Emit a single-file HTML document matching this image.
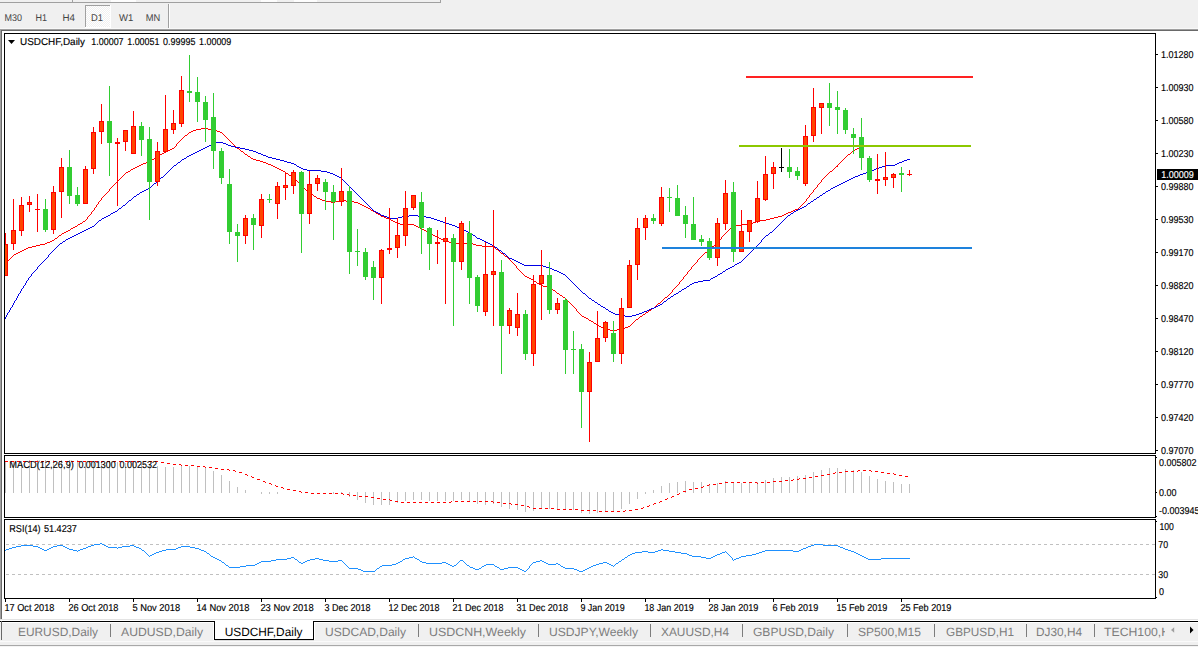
<!DOCTYPE html>
<html><head><meta charset="utf-8"><title>USDCHF,Daily</title>
<style>
html,body{margin:0;padding:0;background:#f0f0f0;overflow:hidden}
body{width:1198px;height:647px}
svg{display:block;position:absolute;left:0;top:0}
text{font-family:"Liberation Sans", sans-serif;text-rendering:geometricPrecision}
.ax{font-size:10px;fill:#000;stroke:#000;stroke-width:0.15px}
.tb{font-size:9.8px;fill:#444}
.tab{font-size:12px;fill:#7d7d7d}
.tabA{font-size:12px;fill:#000}
</style></head><body>
<svg width="1198" height="647" viewBox="0 0 1198 647">
<g shape-rendering="crispEdges">
<rect x="0" y="0" width="1198" height="647" fill="#f0f0f0"/>
<rect x="0" y="2" width="441" height="1" fill="#a0a0a0"/>
<rect x="72" y="0" width="1" height="2" fill="#a0a0a0"/>
<rect x="440" y="0" width="1" height="2" fill="#a0a0a0"/>
<rect x="111" y="0" width="25" height="2" fill="#fdfdfd"/>
<rect x="261" y="0" width="16" height="2" fill="#fdfdfd"/>
<rect x="294" y="0" width="23" height="2" fill="#fdfdfd"/>
<pattern id="ck" width="2" height="2" patternUnits="userSpaceOnUse"><rect width="2" height="2" fill="#f0f0f0"/><rect width="1" height="1" fill="#fff"/><rect x="1" y="1" width="1" height="1" fill="#fff"/></pattern>
<rect x="85" y="5" width="26" height="23" fill="url(#ck)"/>
<rect x="85" y="5" width="26" height="1" fill="#a0a0a0"/>
<rect x="85" y="5" width="1" height="23" fill="#a0a0a0"/>
<rect x="110" y="5" width="1" height="23" fill="#ffffff"/>
<rect x="85" y="27" width="26" height="1" fill="#ffffff"/>
<rect x="168" y="4" width="1" height="25" fill="#a0a0a0"/>
<rect x="169" y="4" width="1" height="25" fill="#ffffff"/>
<rect x="0" y="28" width="1198" height="1" fill="#f8f8f8"/>
<rect x="0" y="29" width="1198" height="1" fill="#a0a0a0"/>
<rect x="0" y="30" width="1198" height="1" fill="#696969"/>
<rect x="0" y="31" width="1198" height="589" fill="#ffffff"/>
<rect x="0" y="29" width="1" height="591" fill="#a0a0a0"/>
<rect x="1" y="30" width="1" height="590" fill="#696969"/>
<rect x="4" y="33" width="1152" height="1" fill="#000"/>
<rect x="4" y="453" width="1152" height="1" fill="#000"/>
<rect x="4" y="33" width="1" height="421" fill="#000"/>
<rect x="1155" y="33" width="1" height="421" fill="#000"/>
<rect x="4" y="455" width="1152" height="1" fill="#000"/>
<rect x="4" y="517" width="1152" height="1" fill="#000"/>
<rect x="4" y="455" width="1" height="63" fill="#000"/>
<rect x="1155" y="455" width="1" height="63" fill="#000"/>
<rect x="4" y="519" width="1152" height="1" fill="#000"/>
<rect x="4" y="598" width="1152" height="1" fill="#000"/>
<rect x="4" y="519" width="1" height="80" fill="#000"/>
<rect x="1155" y="519" width="1" height="80" fill="#000"/>
</g>
<defs><clipPath id="cm"><rect x="5" y="34" width="1150" height="419"/></clipPath><clipPath id="c2"><rect x="5" y="456" width="1150" height="61"/></clipPath><clipPath id="c3"><rect x="5" y="520" width="1150" height="78"/></clipPath></defs>
<g shape-rendering="crispEdges" clip-path="url(#cm)" fill="#ff0000">
<rect x="5" y="261" width="1" height="1"/>
<rect x="6" y="260" width="3" height="1"/>
<rect x="9" y="259" width="1" height="1"/>
<rect x="10" y="258" width="1" height="1"/>
<rect x="11" y="257" width="1" height="1"/>
<rect x="12" y="256" width="1" height="1"/>
<rect x="13" y="255" width="1" height="1"/>
<rect x="14" y="254" width="2" height="1"/>
<rect x="16" y="253" width="2" height="1"/>
<rect x="18" y="252" width="2" height="1"/>
<rect x="20" y="251" width="2" height="1"/>
<rect x="22" y="250" width="2" height="1"/>
<rect x="24" y="249" width="2" height="1"/>
<rect x="26" y="248" width="2" height="1"/>
<rect x="28" y="247" width="4" height="1"/>
<rect x="32" y="246" width="4" height="1"/>
<rect x="36" y="245" width="4" height="1"/>
<rect x="40" y="244" width="5" height="1"/>
<rect x="45" y="243" width="2" height="1"/>
<rect x="47" y="242" width="3" height="1"/>
<rect x="50" y="241" width="2" height="1"/>
<rect x="52" y="240" width="2" height="1"/>
<rect x="54" y="239" width="1" height="1"/>
<rect x="55" y="238" width="2" height="1"/>
<rect x="57" y="237" width="1" height="1"/>
<rect x="58" y="236" width="1" height="1"/>
<rect x="59" y="235" width="2" height="1"/>
<rect x="61" y="234" width="1" height="1"/>
<rect x="62" y="233" width="2" height="1"/>
<rect x="64" y="232" width="2" height="1"/>
<rect x="66" y="231" width="2" height="1"/>
<rect x="68" y="230" width="2" height="1"/>
<rect x="70" y="229" width="1" height="1"/>
<rect x="71" y="228" width="2" height="1"/>
<rect x="73" y="227" width="2" height="1"/>
<rect x="75" y="226" width="2" height="1"/>
<rect x="77" y="225" width="1" height="1"/>
<rect x="78" y="224" width="2" height="1"/>
<rect x="80" y="223" width="2" height="1"/>
<rect x="82" y="222" width="1" height="1"/>
<rect x="83" y="221" width="2" height="1"/>
<rect x="85" y="220" width="1" height="1"/>
<rect x="86" y="219" width="1" height="1"/>
<rect x="87" y="217" width="1" height="2"/>
<rect x="88" y="216" width="1" height="1"/>
<rect x="89" y="215" width="1" height="1"/>
<rect x="90" y="214" width="1" height="1"/>
<rect x="91" y="212" width="1" height="2"/>
<rect x="92" y="211" width="1" height="1"/>
<rect x="93" y="210" width="1" height="1"/>
<rect x="94" y="208" width="1" height="2"/>
<rect x="95" y="207" width="1" height="1"/>
<rect x="96" y="205" width="1" height="2"/>
<rect x="97" y="204" width="1" height="1"/>
<rect x="98" y="202" width="1" height="2"/>
<rect x="99" y="201" width="1" height="1"/>
<rect x="100" y="200" width="1" height="1"/>
<rect x="101" y="198" width="1" height="2"/>
<rect x="102" y="197" width="1" height="1"/>
<rect x="103" y="196" width="1" height="1"/>
<rect x="104" y="195" width="1" height="1"/>
<rect x="105" y="194" width="1" height="1"/>
<rect x="106" y="193" width="1" height="1"/>
<rect x="107" y="192" width="1" height="1"/>
<rect x="108" y="191" width="1" height="1"/>
<rect x="109" y="189" width="1" height="2"/>
<rect x="110" y="188" width="1" height="1"/>
<rect x="111" y="187" width="1" height="1"/>
<rect x="112" y="186" width="1" height="1"/>
<rect x="113" y="185" width="1" height="1"/>
<rect x="114" y="184" width="1" height="1"/>
<rect x="115" y="183" width="1" height="1"/>
<rect x="116" y="182" width="1" height="1"/>
<rect x="117" y="181" width="1" height="1"/>
<rect x="118" y="180" width="1" height="1"/>
<rect x="119" y="179" width="1" height="1"/>
<rect x="120" y="178" width="1" height="1"/>
<rect x="121" y="177" width="1" height="1"/>
<rect x="122" y="176" width="1" height="1"/>
<rect x="123" y="175" width="1" height="1"/>
<rect x="124" y="174" width="1" height="1"/>
<rect x="125" y="173" width="1" height="1"/>
<rect x="126" y="172" width="2" height="1"/>
<rect x="128" y="171" width="2" height="1"/>
<rect x="130" y="170" width="1" height="1"/>
<rect x="131" y="169" width="2" height="1"/>
<rect x="133" y="168" width="2" height="1"/>
<rect x="135" y="167" width="2" height="1"/>
<rect x="137" y="166" width="2" height="1"/>
<rect x="139" y="165" width="2" height="1"/>
<rect x="141" y="164" width="2" height="1"/>
<rect x="143" y="163" width="3" height="1"/>
<rect x="146" y="162" width="2" height="1"/>
<rect x="148" y="161" width="2" height="1"/>
<rect x="150" y="160" width="2" height="1"/>
<rect x="152" y="159" width="2" height="1"/>
<rect x="154" y="158" width="1" height="1"/>
<rect x="155" y="157" width="2" height="1"/>
<rect x="157" y="156" width="1" height="1"/>
<rect x="158" y="155" width="2" height="1"/>
<rect x="160" y="154" width="2" height="1"/>
<rect x="162" y="153" width="2" height="1"/>
<rect x="164" y="152" width="2" height="1"/>
<rect x="166" y="151" width="2" height="1"/>
<rect x="168" y="150" width="2" height="1"/>
<rect x="170" y="149" width="2" height="1"/>
<rect x="172" y="148" width="2" height="1"/>
<rect x="174" y="147" width="1" height="1"/>
<rect x="175" y="146" width="1" height="1"/>
<rect x="176" y="144" width="1" height="2"/>
<rect x="177" y="143" width="1" height="1"/>
<rect x="178" y="142" width="1" height="1"/>
<rect x="179" y="141" width="1" height="1"/>
<rect x="180" y="140" width="1" height="1"/>
<rect x="181" y="139" width="1" height="1"/>
<rect x="182" y="138" width="1" height="1"/>
<rect x="183" y="137" width="1" height="1"/>
<rect x="184" y="136" width="1" height="1"/>
<rect x="185" y="135" width="2" height="1"/>
<rect x="187" y="134" width="1" height="1"/>
<rect x="188" y="133" width="1" height="1"/>
<rect x="189" y="132" width="2" height="1"/>
<rect x="191" y="131" width="2" height="1"/>
<rect x="193" y="130" width="3" height="1"/>
<rect x="196" y="129" width="5" height="1"/>
<rect x="201" y="128" width="7" height="1"/>
<rect x="208" y="129" width="5" height="1"/>
<rect x="213" y="130" width="4" height="1"/>
<rect x="217" y="131" width="3" height="1"/>
<rect x="220" y="132" width="2" height="1"/>
<rect x="222" y="133" width="1" height="1"/>
<rect x="223" y="134" width="1" height="1"/>
<rect x="224" y="135" width="1" height="1"/>
<rect x="225" y="136" width="1" height="1"/>
<rect x="226" y="137" width="1" height="1"/>
<rect x="227" y="138" width="1" height="1"/>
<rect x="228" y="139" width="1" height="1"/>
<rect x="229" y="140" width="1" height="1"/>
<rect x="230" y="141" width="1" height="1"/>
<rect x="231" y="142" width="1" height="1"/>
<rect x="232" y="143" width="1" height="1"/>
<rect x="233" y="144" width="1" height="1"/>
<rect x="234" y="145" width="1" height="1"/>
<rect x="235" y="146" width="1" height="1"/>
<rect x="236" y="147" width="1" height="1"/>
<rect x="237" y="148" width="2" height="1"/>
<rect x="239" y="149" width="1" height="1"/>
<rect x="240" y="150" width="1" height="1"/>
<rect x="241" y="151" width="2" height="1"/>
<rect x="243" y="152" width="1" height="1"/>
<rect x="244" y="153" width="1" height="1"/>
<rect x="245" y="154" width="2" height="1"/>
<rect x="247" y="155" width="1" height="1"/>
<rect x="248" y="156" width="2" height="1"/>
<rect x="250" y="157" width="1" height="1"/>
<rect x="251" y="158" width="2" height="1"/>
<rect x="253" y="159" width="3" height="1"/>
<rect x="256" y="160" width="4" height="1"/>
<rect x="260" y="161" width="3" height="1"/>
<rect x="263" y="162" width="3" height="1"/>
<rect x="266" y="163" width="2" height="1"/>
<rect x="268" y="164" width="3" height="1"/>
<rect x="271" y="165" width="2" height="1"/>
<rect x="273" y="166" width="2" height="1"/>
<rect x="275" y="167" width="2" height="1"/>
<rect x="277" y="168" width="2" height="1"/>
<rect x="279" y="169" width="2" height="1"/>
<rect x="281" y="170" width="2" height="1"/>
<rect x="283" y="171" width="2" height="1"/>
<rect x="285" y="172" width="1" height="1"/>
<rect x="286" y="173" width="2" height="1"/>
<rect x="288" y="174" width="1" height="1"/>
<rect x="289" y="175" width="2" height="1"/>
<rect x="291" y="176" width="1" height="1"/>
<rect x="292" y="177" width="2" height="1"/>
<rect x="294" y="178" width="1" height="1"/>
<rect x="295" y="179" width="1" height="1"/>
<rect x="296" y="180" width="1" height="1"/>
<rect x="297" y="181" width="1" height="1"/>
<rect x="298" y="182" width="1" height="1"/>
<rect x="299" y="183" width="1" height="1"/>
<rect x="300" y="184" width="1" height="1"/>
<rect x="301" y="185" width="1" height="1"/>
<rect x="302" y="186" width="1" height="1"/>
<rect x="303" y="187" width="1" height="1"/>
<rect x="304" y="188" width="1" height="1"/>
<rect x="305" y="189" width="1" height="1"/>
<rect x="306" y="190" width="1" height="1"/>
<rect x="307" y="191" width="1" height="1"/>
<rect x="308" y="192" width="1" height="1"/>
<rect x="309" y="193" width="2" height="1"/>
<rect x="311" y="194" width="2" height="1"/>
<rect x="313" y="195" width="1" height="1"/>
<rect x="314" y="196" width="2" height="1"/>
<rect x="316" y="197" width="1" height="1"/>
<rect x="317" y="198" width="3" height="1"/>
<rect x="320" y="199" width="2" height="1"/>
<rect x="322" y="200" width="3" height="1"/>
<rect x="325" y="201" width="6" height="1"/>
<rect x="331" y="202" width="4" height="1"/>
<rect x="335" y="201" width="4" height="1"/>
<rect x="339" y="200" width="7" height="1"/>
<rect x="346" y="201" width="8" height="1"/>
<rect x="354" y="202" width="4" height="1"/>
<rect x="358" y="203" width="2" height="1"/>
<rect x="360" y="204" width="2" height="1"/>
<rect x="362" y="205" width="2" height="1"/>
<rect x="364" y="206" width="2" height="1"/>
<rect x="366" y="207" width="2" height="1"/>
<rect x="368" y="208" width="2" height="1"/>
<rect x="370" y="209" width="1" height="1"/>
<rect x="371" y="210" width="2" height="1"/>
<rect x="373" y="211" width="2" height="1"/>
<rect x="375" y="212" width="1" height="1"/>
<rect x="376" y="213" width="2" height="1"/>
<rect x="378" y="214" width="2" height="1"/>
<rect x="380" y="215" width="1" height="1"/>
<rect x="381" y="216" width="3" height="1"/>
<rect x="384" y="217" width="2" height="1"/>
<rect x="386" y="218" width="3" height="1"/>
<rect x="389" y="219" width="2" height="1"/>
<rect x="391" y="220" width="2" height="1"/>
<rect x="393" y="221" width="2" height="1"/>
<rect x="395" y="222" width="2" height="1"/>
<rect x="397" y="223" width="3" height="1"/>
<rect x="400" y="224" width="5" height="1"/>
<rect x="405" y="225" width="1" height="1"/>
<rect x="406" y="224" width="8" height="1"/>
<rect x="414" y="225" width="2" height="1"/>
<rect x="416" y="226" width="2" height="1"/>
<rect x="418" y="227" width="2" height="1"/>
<rect x="420" y="228" width="2" height="1"/>
<rect x="422" y="229" width="2" height="1"/>
<rect x="424" y="230" width="2" height="1"/>
<rect x="426" y="231" width="2" height="1"/>
<rect x="428" y="232" width="1" height="1"/>
<rect x="429" y="233" width="2" height="1"/>
<rect x="431" y="234" width="2" height="1"/>
<rect x="433" y="235" width="2" height="1"/>
<rect x="435" y="236" width="2" height="1"/>
<rect x="437" y="237" width="2" height="1"/>
<rect x="439" y="238" width="2" height="1"/>
<rect x="441" y="239" width="2" height="1"/>
<rect x="443" y="240" width="2" height="1"/>
<rect x="445" y="241" width="4" height="1"/>
<rect x="449" y="242" width="3" height="1"/>
<rect x="452" y="243" width="21" height="1"/>
<rect x="473" y="244" width="3" height="1"/>
<rect x="476" y="245" width="6" height="1"/>
<rect x="482" y="246" width="12" height="1"/>
<rect x="494" y="247" width="1" height="1"/>
<rect x="495" y="248" width="1" height="1"/>
<rect x="496" y="249" width="2" height="1"/>
<rect x="498" y="250" width="1" height="1"/>
<rect x="499" y="251" width="1" height="1"/>
<rect x="500" y="252" width="1" height="1"/>
<rect x="501" y="253" width="2" height="1"/>
<rect x="503" y="254" width="1" height="1"/>
<rect x="504" y="255" width="1" height="1"/>
<rect x="505" y="256" width="2" height="1"/>
<rect x="507" y="257" width="1" height="1"/>
<rect x="508" y="258" width="1" height="1"/>
<rect x="509" y="259" width="1" height="1"/>
<rect x="510" y="260" width="1" height="1"/>
<rect x="511" y="261" width="1" height="1"/>
<rect x="512" y="262" width="1" height="1"/>
<rect x="513" y="263" width="1" height="1"/>
<rect x="514" y="264" width="1" height="1"/>
<rect x="515" y="265" width="1" height="1"/>
<rect x="516" y="266" width="1" height="2"/>
<rect x="517" y="268" width="1" height="1"/>
<rect x="518" y="269" width="1" height="1"/>
<rect x="519" y="270" width="1" height="1"/>
<rect x="520" y="271" width="1" height="1"/>
<rect x="521" y="272" width="1" height="1"/>
<rect x="522" y="273" width="1" height="1"/>
<rect x="523" y="274" width="1" height="1"/>
<rect x="524" y="275" width="1" height="1"/>
<rect x="525" y="276" width="2" height="1"/>
<rect x="527" y="277" width="2" height="1"/>
<rect x="529" y="278" width="2" height="1"/>
<rect x="531" y="279" width="2" height="1"/>
<rect x="533" y="280" width="1" height="1"/>
<rect x="534" y="281" width="2" height="1"/>
<rect x="536" y="282" width="1" height="1"/>
<rect x="537" y="283" width="2" height="1"/>
<rect x="539" y="284" width="2" height="1"/>
<rect x="541" y="285" width="2" height="1"/>
<rect x="543" y="286" width="4" height="1"/>
<rect x="547" y="287" width="3" height="1"/>
<rect x="550" y="288" width="2" height="1"/>
<rect x="552" y="289" width="1" height="1"/>
<rect x="553" y="290" width="2" height="1"/>
<rect x="555" y="291" width="1" height="1"/>
<rect x="556" y="292" width="1" height="1"/>
<rect x="557" y="293" width="2" height="1"/>
<rect x="559" y="294" width="1" height="1"/>
<rect x="560" y="295" width="2" height="1"/>
<rect x="562" y="296" width="1" height="1"/>
<rect x="563" y="297" width="2" height="1"/>
<rect x="565" y="298" width="1" height="1"/>
<rect x="566" y="299" width="1" height="1"/>
<rect x="567" y="300" width="1" height="1"/>
<rect x="568" y="301" width="1" height="1"/>
<rect x="569" y="302" width="1" height="1"/>
<rect x="570" y="303" width="1" height="1"/>
<rect x="571" y="304" width="1" height="1"/>
<rect x="572" y="305" width="1" height="1"/>
<rect x="573" y="306" width="1" height="1"/>
<rect x="574" y="307" width="1" height="1"/>
<rect x="575" y="308" width="1" height="1"/>
<rect x="576" y="309" width="1" height="2"/>
<rect x="577" y="311" width="1" height="1"/>
<rect x="578" y="312" width="1" height="1"/>
<rect x="579" y="313" width="1" height="1"/>
<rect x="580" y="314" width="1" height="1"/>
<rect x="581" y="315" width="1" height="1"/>
<rect x="582" y="316" width="2" height="1"/>
<rect x="584" y="317" width="2" height="1"/>
<rect x="586" y="318" width="2" height="1"/>
<rect x="588" y="319" width="1" height="1"/>
<rect x="589" y="320" width="2" height="1"/>
<rect x="591" y="321" width="2" height="1"/>
<rect x="593" y="322" width="1" height="1"/>
<rect x="594" y="323" width="2" height="1"/>
<rect x="596" y="324" width="1" height="1"/>
<rect x="597" y="325" width="2" height="1"/>
<rect x="599" y="326" width="2" height="1"/>
<rect x="601" y="327" width="2" height="1"/>
<rect x="603" y="328" width="2" height="1"/>
<rect x="605" y="329" width="5" height="1"/>
<rect x="610" y="330" width="7" height="1"/>
<rect x="617" y="329" width="5" height="1"/>
<rect x="622" y="328" width="3" height="1"/>
<rect x="625" y="327" width="3" height="1"/>
<rect x="628" y="326" width="2" height="1"/>
<rect x="630" y="325" width="1" height="1"/>
<rect x="631" y="324" width="1" height="1"/>
<rect x="632" y="323" width="1" height="1"/>
<rect x="633" y="322" width="1" height="1"/>
<rect x="634" y="321" width="1" height="1"/>
<rect x="635" y="320" width="1" height="1"/>
<rect x="636" y="319" width="2" height="1"/>
<rect x="638" y="318" width="1" height="1"/>
<rect x="639" y="317" width="1" height="1"/>
<rect x="640" y="316" width="2" height="1"/>
<rect x="642" y="315" width="1" height="1"/>
<rect x="643" y="314" width="2" height="1"/>
<rect x="645" y="313" width="1" height="1"/>
<rect x="646" y="312" width="2" height="1"/>
<rect x="648" y="311" width="1" height="1"/>
<rect x="649" y="310" width="2" height="1"/>
<rect x="651" y="309" width="1" height="1"/>
<rect x="652" y="308" width="2" height="1"/>
<rect x="654" y="307" width="1" height="1"/>
<rect x="655" y="306" width="1" height="1"/>
<rect x="656" y="305" width="1" height="1"/>
<rect x="657" y="304" width="1" height="1"/>
<rect x="658" y="303" width="2" height="1"/>
<rect x="660" y="302" width="1" height="1"/>
<rect x="661" y="301" width="1" height="1"/>
<rect x="662" y="300" width="1" height="1"/>
<rect x="663" y="299" width="1" height="1"/>
<rect x="664" y="298" width="1" height="1"/>
<rect x="665" y="297" width="2" height="1"/>
<rect x="667" y="296" width="1" height="1"/>
<rect x="668" y="295" width="1" height="1"/>
<rect x="669" y="294" width="1" height="1"/>
<rect x="670" y="293" width="1" height="1"/>
<rect x="671" y="292" width="1" height="1"/>
<rect x="672" y="290" width="1" height="2"/>
<rect x="673" y="289" width="1" height="1"/>
<rect x="674" y="288" width="1" height="1"/>
<rect x="675" y="287" width="1" height="1"/>
<rect x="676" y="286" width="1" height="1"/>
<rect x="677" y="285" width="1" height="1"/>
<rect x="678" y="284" width="1" height="1"/>
<rect x="679" y="282" width="1" height="2"/>
<rect x="680" y="281" width="1" height="1"/>
<rect x="681" y="280" width="1" height="1"/>
<rect x="682" y="279" width="1" height="1"/>
<rect x="683" y="277" width="1" height="2"/>
<rect x="684" y="276" width="1" height="1"/>
<rect x="685" y="275" width="1" height="1"/>
<rect x="686" y="274" width="1" height="1"/>
<rect x="687" y="272" width="1" height="2"/>
<rect x="688" y="271" width="1" height="1"/>
<rect x="689" y="270" width="1" height="1"/>
<rect x="690" y="269" width="1" height="1"/>
<rect x="691" y="267" width="1" height="2"/>
<rect x="692" y="266" width="1" height="1"/>
<rect x="693" y="265" width="1" height="1"/>
<rect x="694" y="264" width="1" height="1"/>
<rect x="695" y="263" width="1" height="1"/>
<rect x="696" y="262" width="1" height="1"/>
<rect x="697" y="260" width="1" height="2"/>
<rect x="698" y="259" width="1" height="1"/>
<rect x="699" y="258" width="1" height="1"/>
<rect x="700" y="257" width="1" height="1"/>
<rect x="701" y="256" width="1" height="1"/>
<rect x="702" y="255" width="1" height="1"/>
<rect x="703" y="254" width="1" height="1"/>
<rect x="704" y="253" width="1" height="1"/>
<rect x="705" y="252" width="2" height="1"/>
<rect x="707" y="251" width="1" height="1"/>
<rect x="708" y="250" width="1" height="1"/>
<rect x="709" y="249" width="1" height="1"/>
<rect x="710" y="248" width="1" height="1"/>
<rect x="711" y="247" width="1" height="1"/>
<rect x="712" y="246" width="2" height="1"/>
<rect x="714" y="245" width="1" height="1"/>
<rect x="715" y="244" width="1" height="1"/>
<rect x="716" y="243" width="1" height="1"/>
<rect x="717" y="242" width="1" height="2"/>
<rect x="718" y="241" width="1" height="1"/>
<rect x="719" y="240" width="1" height="1"/>
<rect x="720" y="239" width="1" height="1"/>
<rect x="721" y="237" width="1" height="2"/>
<rect x="722" y="236" width="1" height="1"/>
<rect x="723" y="235" width="1" height="1"/>
<rect x="724" y="234" width="1" height="1"/>
<rect x="725" y="233" width="1" height="1"/>
<rect x="726" y="232" width="1" height="1"/>
<rect x="727" y="231" width="1" height="1"/>
<rect x="728" y="230" width="1" height="1"/>
<rect x="729" y="229" width="1" height="1"/>
<rect x="730" y="228" width="2" height="1"/>
<rect x="732" y="227" width="1" height="1"/>
<rect x="733" y="226" width="3" height="1"/>
<rect x="736" y="225" width="6" height="1"/>
<rect x="742" y="224" width="8" height="1"/>
<rect x="750" y="223" width="3" height="1"/>
<rect x="753" y="222" width="3" height="1"/>
<rect x="756" y="221" width="4" height="1"/>
<rect x="760" y="220" width="6" height="1"/>
<rect x="766" y="219" width="4" height="1"/>
<rect x="770" y="218" width="4" height="1"/>
<rect x="774" y="217" width="4" height="1"/>
<rect x="778" y="216" width="4" height="1"/>
<rect x="782" y="215" width="2" height="1"/>
<rect x="784" y="214" width="2" height="1"/>
<rect x="786" y="213" width="2" height="1"/>
<rect x="788" y="212" width="3" height="1"/>
<rect x="791" y="211" width="2" height="1"/>
<rect x="793" y="210" width="2" height="1"/>
<rect x="795" y="209" width="3" height="1"/>
<rect x="798" y="208" width="1" height="1"/>
<rect x="799" y="207" width="1" height="1"/>
<rect x="800" y="206" width="1" height="1"/>
<rect x="801" y="205" width="1" height="1"/>
<rect x="802" y="204" width="1" height="1"/>
<rect x="803" y="203" width="1" height="1"/>
<rect x="804" y="202" width="1" height="1"/>
<rect x="805" y="201" width="1" height="1"/>
<rect x="806" y="199" width="1" height="2"/>
<rect x="807" y="198" width="1" height="1"/>
<rect x="808" y="197" width="1" height="1"/>
<rect x="809" y="195" width="1" height="2"/>
<rect x="810" y="194" width="1" height="1"/>
<rect x="811" y="193" width="1" height="1"/>
<rect x="812" y="192" width="1" height="1"/>
<rect x="813" y="190" width="1" height="2"/>
<rect x="814" y="189" width="1" height="1"/>
<rect x="815" y="188" width="1" height="1"/>
<rect x="816" y="187" width="1" height="1"/>
<rect x="817" y="185" width="1" height="2"/>
<rect x="818" y="184" width="1" height="1"/>
<rect x="819" y="183" width="1" height="1"/>
<rect x="820" y="182" width="1" height="1"/>
<rect x="821" y="180" width="1" height="2"/>
<rect x="822" y="179" width="1" height="1"/>
<rect x="823" y="178" width="1" height="1"/>
<rect x="824" y="177" width="1" height="1"/>
<rect x="825" y="176" width="1" height="1"/>
<rect x="826" y="175" width="1" height="1"/>
<rect x="827" y="174" width="1" height="1"/>
<rect x="828" y="173" width="1" height="1"/>
<rect x="829" y="172" width="1" height="1"/>
<rect x="830" y="171" width="2" height="1"/>
<rect x="832" y="170" width="1" height="1"/>
<rect x="833" y="169" width="1" height="1"/>
<rect x="834" y="168" width="1" height="1"/>
<rect x="835" y="167" width="1" height="1"/>
<rect x="836" y="166" width="1" height="1"/>
<rect x="837" y="165" width="1" height="2"/>
<rect x="838" y="164" width="1" height="1"/>
<rect x="839" y="163" width="1" height="1"/>
<rect x="840" y="162" width="1" height="1"/>
<rect x="841" y="161" width="1" height="1"/>
<rect x="842" y="160" width="1" height="1"/>
<rect x="843" y="159" width="1" height="1"/>
<rect x="844" y="158" width="1" height="1"/>
<rect x="845" y="157" width="1" height="1"/>
<rect x="846" y="156" width="1" height="1"/>
<rect x="847" y="155" width="1" height="1"/>
<rect x="848" y="154" width="2" height="1"/>
<rect x="850" y="153" width="1" height="1"/>
<rect x="851" y="152" width="1" height="1"/>
<rect x="852" y="151" width="2" height="1"/>
<rect x="854" y="150" width="1" height="1"/>
<rect x="855" y="149" width="2" height="1"/>
<rect x="857" y="148" width="2" height="1"/>
<rect x="859" y="147" width="2" height="1"/>
<rect x="861" y="146" width="1" height="1"/>
</g>
<g shape-rendering="crispEdges" clip-path="url(#cm)" fill="#0000e6">
<rect x="5" y="317" width="1" height="2"/>
<rect x="6" y="315" width="1" height="2"/>
<rect x="7" y="313" width="1" height="2"/>
<rect x="8" y="312" width="1" height="1"/>
<rect x="9" y="310" width="1" height="2"/>
<rect x="10" y="308" width="1" height="2"/>
<rect x="11" y="307" width="1" height="1"/>
<rect x="12" y="305" width="1" height="2"/>
<rect x="13" y="303" width="1" height="2"/>
<rect x="14" y="301" width="1" height="2"/>
<rect x="15" y="300" width="1" height="1"/>
<rect x="16" y="298" width="1" height="2"/>
<rect x="17" y="296" width="1" height="2"/>
<rect x="18" y="294" width="1" height="2"/>
<rect x="19" y="293" width="1" height="1"/>
<rect x="20" y="291" width="1" height="2"/>
<rect x="21" y="289" width="1" height="2"/>
<rect x="22" y="288" width="1" height="1"/>
<rect x="23" y="286" width="1" height="2"/>
<rect x="24" y="285" width="1" height="1"/>
<rect x="25" y="283" width="1" height="2"/>
<rect x="26" y="281" width="1" height="2"/>
<rect x="27" y="280" width="1" height="1"/>
<rect x="28" y="278" width="1" height="2"/>
<rect x="29" y="277" width="1" height="1"/>
<rect x="30" y="276" width="1" height="1"/>
<rect x="31" y="274" width="1" height="2"/>
<rect x="32" y="273" width="1" height="1"/>
<rect x="33" y="272" width="1" height="1"/>
<rect x="34" y="271" width="1" height="1"/>
<rect x="35" y="270" width="1" height="1"/>
<rect x="36" y="269" width="1" height="1"/>
<rect x="37" y="267" width="1" height="2"/>
<rect x="38" y="266" width="1" height="1"/>
<rect x="39" y="265" width="1" height="1"/>
<rect x="40" y="264" width="1" height="1"/>
<rect x="41" y="263" width="1" height="1"/>
<rect x="42" y="262" width="1" height="1"/>
<rect x="43" y="261" width="1" height="1"/>
<rect x="44" y="260" width="1" height="1"/>
<rect x="45" y="259" width="1" height="1"/>
<rect x="46" y="258" width="1" height="1"/>
<rect x="47" y="257" width="1" height="1"/>
<rect x="48" y="255" width="1" height="2"/>
<rect x="49" y="254" width="1" height="1"/>
<rect x="50" y="253" width="1" height="1"/>
<rect x="51" y="252" width="1" height="1"/>
<rect x="52" y="251" width="1" height="1"/>
<rect x="53" y="250" width="1" height="1"/>
<rect x="54" y="249" width="1" height="1"/>
<rect x="55" y="248" width="1" height="1"/>
<rect x="56" y="247" width="1" height="1"/>
<rect x="57" y="246" width="1" height="1"/>
<rect x="58" y="245" width="1" height="1"/>
<rect x="59" y="244" width="1" height="1"/>
<rect x="60" y="243" width="2" height="1"/>
<rect x="62" y="242" width="1" height="1"/>
<rect x="63" y="241" width="2" height="1"/>
<rect x="65" y="240" width="1" height="1"/>
<rect x="66" y="239" width="2" height="1"/>
<rect x="68" y="238" width="2" height="1"/>
<rect x="70" y="237" width="2" height="1"/>
<rect x="72" y="236" width="2" height="1"/>
<rect x="74" y="235" width="2" height="1"/>
<rect x="76" y="234" width="2" height="1"/>
<rect x="78" y="233" width="2" height="1"/>
<rect x="80" y="232" width="2" height="1"/>
<rect x="82" y="231" width="2" height="1"/>
<rect x="84" y="230" width="2" height="1"/>
<rect x="86" y="229" width="2" height="1"/>
<rect x="88" y="228" width="2" height="1"/>
<rect x="90" y="227" width="2" height="1"/>
<rect x="92" y="226" width="2" height="1"/>
<rect x="94" y="225" width="1" height="1"/>
<rect x="95" y="224" width="1" height="1"/>
<rect x="96" y="223" width="1" height="1"/>
<rect x="97" y="222" width="1" height="1"/>
<rect x="98" y="221" width="1" height="1"/>
<rect x="99" y="220" width="2" height="1"/>
<rect x="101" y="219" width="1" height="1"/>
<rect x="102" y="218" width="2" height="1"/>
<rect x="104" y="217" width="2" height="1"/>
<rect x="106" y="216" width="2" height="1"/>
<rect x="108" y="215" width="2" height="1"/>
<rect x="110" y="214" width="1" height="1"/>
<rect x="111" y="213" width="2" height="1"/>
<rect x="113" y="212" width="2" height="1"/>
<rect x="115" y="211" width="2" height="1"/>
<rect x="117" y="210" width="1" height="1"/>
<rect x="118" y="209" width="1" height="1"/>
<rect x="119" y="208" width="2" height="1"/>
<rect x="121" y="207" width="1" height="1"/>
<rect x="122" y="206" width="1" height="1"/>
<rect x="123" y="205" width="2" height="1"/>
<rect x="125" y="204" width="1" height="1"/>
<rect x="126" y="203" width="1" height="1"/>
<rect x="127" y="202" width="1" height="1"/>
<rect x="128" y="201" width="1" height="1"/>
<rect x="129" y="200" width="2" height="1"/>
<rect x="131" y="199" width="1" height="1"/>
<rect x="132" y="198" width="1" height="1"/>
<rect x="133" y="197" width="1" height="1"/>
<rect x="134" y="196" width="2" height="1"/>
<rect x="136" y="195" width="1" height="1"/>
<rect x="137" y="194" width="2" height="1"/>
<rect x="139" y="193" width="1" height="1"/>
<rect x="140" y="192" width="2" height="1"/>
<rect x="142" y="191" width="2" height="1"/>
<rect x="144" y="190" width="2" height="1"/>
<rect x="146" y="189" width="2" height="1"/>
<rect x="148" y="188" width="2" height="1"/>
<rect x="150" y="187" width="1" height="1"/>
<rect x="151" y="186" width="1" height="1"/>
<rect x="152" y="185" width="1" height="1"/>
<rect x="153" y="184" width="1" height="1"/>
<rect x="154" y="183" width="2" height="1"/>
<rect x="156" y="182" width="1" height="1"/>
<rect x="157" y="181" width="1" height="1"/>
<rect x="158" y="180" width="1" height="1"/>
<rect x="159" y="179" width="1" height="1"/>
<rect x="160" y="178" width="1" height="1"/>
<rect x="161" y="177" width="2" height="1"/>
<rect x="163" y="176" width="1" height="1"/>
<rect x="164" y="175" width="1" height="1"/>
<rect x="165" y="174" width="1" height="1"/>
<rect x="166" y="173" width="1" height="1"/>
<rect x="167" y="172" width="1" height="1"/>
<rect x="168" y="171" width="1" height="1"/>
<rect x="169" y="170" width="1" height="1"/>
<rect x="170" y="169" width="1" height="1"/>
<rect x="171" y="168" width="1" height="1"/>
<rect x="172" y="167" width="1" height="1"/>
<rect x="173" y="166" width="1" height="1"/>
<rect x="174" y="165" width="2" height="1"/>
<rect x="176" y="164" width="1" height="1"/>
<rect x="177" y="163" width="1" height="1"/>
<rect x="178" y="162" width="2" height="1"/>
<rect x="180" y="161" width="1" height="1"/>
<rect x="181" y="160" width="1" height="1"/>
<rect x="182" y="159" width="2" height="1"/>
<rect x="184" y="158" width="2" height="1"/>
<rect x="186" y="157" width="1" height="1"/>
<rect x="187" y="156" width="2" height="1"/>
<rect x="189" y="155" width="2" height="1"/>
<rect x="191" y="154" width="2" height="1"/>
<rect x="193" y="153" width="2" height="1"/>
<rect x="195" y="152" width="2" height="1"/>
<rect x="197" y="151" width="2" height="1"/>
<rect x="199" y="150" width="2" height="1"/>
<rect x="201" y="149" width="2" height="1"/>
<rect x="203" y="148" width="2" height="1"/>
<rect x="205" y="147" width="2" height="1"/>
<rect x="207" y="146" width="2" height="1"/>
<rect x="209" y="145" width="2" height="1"/>
<rect x="211" y="144" width="2" height="1"/>
<rect x="213" y="143" width="3" height="1"/>
<rect x="216" y="142" width="7" height="1"/>
<rect x="223" y="143" width="3" height="1"/>
<rect x="226" y="144" width="2" height="1"/>
<rect x="228" y="145" width="3" height="1"/>
<rect x="231" y="146" width="4" height="1"/>
<rect x="235" y="147" width="5" height="1"/>
<rect x="240" y="148" width="5" height="1"/>
<rect x="245" y="149" width="4" height="1"/>
<rect x="249" y="150" width="4" height="1"/>
<rect x="253" y="151" width="3" height="1"/>
<rect x="256" y="152" width="2" height="1"/>
<rect x="258" y="153" width="3" height="1"/>
<rect x="261" y="154" width="2" height="1"/>
<rect x="263" y="155" width="3" height="1"/>
<rect x="266" y="156" width="2" height="1"/>
<rect x="268" y="157" width="4" height="1"/>
<rect x="272" y="158" width="4" height="1"/>
<rect x="276" y="159" width="4" height="1"/>
<rect x="280" y="160" width="4" height="1"/>
<rect x="284" y="161" width="3" height="1"/>
<rect x="287" y="162" width="4" height="1"/>
<rect x="291" y="163" width="3" height="1"/>
<rect x="294" y="164" width="2" height="1"/>
<rect x="296" y="165" width="1" height="1"/>
<rect x="297" y="166" width="2" height="1"/>
<rect x="299" y="167" width="2" height="1"/>
<rect x="301" y="168" width="2" height="1"/>
<rect x="303" y="169" width="4" height="1"/>
<rect x="307" y="170" width="14" height="1"/>
<rect x="321" y="171" width="6" height="1"/>
<rect x="327" y="172" width="3" height="1"/>
<rect x="330" y="173" width="3" height="1"/>
<rect x="333" y="174" width="2" height="1"/>
<rect x="335" y="175" width="2" height="1"/>
<rect x="337" y="176" width="2" height="1"/>
<rect x="339" y="177" width="2" height="1"/>
<rect x="341" y="178" width="1" height="1"/>
<rect x="342" y="179" width="1" height="1"/>
<rect x="343" y="180" width="1" height="1"/>
<rect x="344" y="181" width="1" height="1"/>
<rect x="345" y="182" width="1" height="1"/>
<rect x="346" y="183" width="1" height="1"/>
<rect x="347" y="184" width="1" height="1"/>
<rect x="348" y="185" width="1" height="1"/>
<rect x="349" y="186" width="1" height="1"/>
<rect x="350" y="187" width="1" height="1"/>
<rect x="351" y="188" width="1" height="1"/>
<rect x="352" y="189" width="1" height="1"/>
<rect x="353" y="190" width="1" height="1"/>
<rect x="354" y="191" width="1" height="1"/>
<rect x="355" y="192" width="1" height="1"/>
<rect x="356" y="193" width="1" height="1"/>
<rect x="357" y="194" width="1" height="1"/>
<rect x="358" y="195" width="1" height="1"/>
<rect x="359" y="196" width="1" height="1"/>
<rect x="360" y="197" width="1" height="1"/>
<rect x="361" y="198" width="1" height="1"/>
<rect x="362" y="199" width="1" height="1"/>
<rect x="363" y="200" width="1" height="1"/>
<rect x="364" y="201" width="1" height="1"/>
<rect x="365" y="202" width="1" height="1"/>
<rect x="366" y="203" width="1" height="1"/>
<rect x="367" y="204" width="1" height="1"/>
<rect x="368" y="205" width="1" height="1"/>
<rect x="369" y="206" width="1" height="1"/>
<rect x="370" y="207" width="1" height="1"/>
<rect x="371" y="208" width="1" height="1"/>
<rect x="372" y="209" width="1" height="1"/>
<rect x="373" y="210" width="1" height="1"/>
<rect x="374" y="211" width="2" height="1"/>
<rect x="376" y="212" width="2" height="1"/>
<rect x="378" y="213" width="2" height="1"/>
<rect x="380" y="214" width="1" height="1"/>
<rect x="381" y="215" width="3" height="1"/>
<rect x="384" y="216" width="3" height="1"/>
<rect x="387" y="217" width="2" height="1"/>
<rect x="389" y="218" width="9" height="1"/>
<rect x="398" y="217" width="4" height="1"/>
<rect x="402" y="216" width="7" height="1"/>
<rect x="409" y="215" width="9" height="1"/>
<rect x="418" y="216" width="8" height="1"/>
<rect x="426" y="217" width="5" height="1"/>
<rect x="431" y="218" width="3" height="1"/>
<rect x="434" y="219" width="3" height="1"/>
<rect x="437" y="220" width="3" height="1"/>
<rect x="440" y="221" width="3" height="1"/>
<rect x="443" y="222" width="2" height="1"/>
<rect x="445" y="223" width="4" height="1"/>
<rect x="449" y="224" width="3" height="1"/>
<rect x="452" y="225" width="3" height="1"/>
<rect x="455" y="226" width="2" height="1"/>
<rect x="457" y="227" width="3" height="1"/>
<rect x="460" y="228" width="2" height="1"/>
<rect x="462" y="229" width="2" height="1"/>
<rect x="464" y="230" width="2" height="1"/>
<rect x="466" y="231" width="2" height="1"/>
<rect x="468" y="232" width="2" height="1"/>
<rect x="470" y="233" width="2" height="1"/>
<rect x="472" y="234" width="1" height="1"/>
<rect x="473" y="235" width="2" height="1"/>
<rect x="475" y="236" width="1" height="1"/>
<rect x="476" y="237" width="1" height="1"/>
<rect x="477" y="238" width="3" height="1"/>
<rect x="480" y="239" width="2" height="1"/>
<rect x="482" y="240" width="2" height="1"/>
<rect x="484" y="241" width="2" height="1"/>
<rect x="486" y="242" width="2" height="1"/>
<rect x="488" y="243" width="2" height="1"/>
<rect x="490" y="244" width="2" height="1"/>
<rect x="492" y="245" width="2" height="1"/>
<rect x="494" y="246" width="1" height="1"/>
<rect x="495" y="247" width="2" height="1"/>
<rect x="497" y="248" width="1" height="1"/>
<rect x="498" y="249" width="1" height="1"/>
<rect x="499" y="250" width="2" height="1"/>
<rect x="501" y="251" width="1" height="1"/>
<rect x="502" y="252" width="1" height="1"/>
<rect x="503" y="253" width="2" height="1"/>
<rect x="505" y="254" width="1" height="1"/>
<rect x="506" y="255" width="1" height="1"/>
<rect x="507" y="256" width="1" height="1"/>
<rect x="508" y="257" width="1" height="1"/>
<rect x="509" y="258" width="3" height="1"/>
<rect x="512" y="259" width="2" height="1"/>
<rect x="514" y="260" width="2" height="1"/>
<rect x="516" y="261" width="2" height="1"/>
<rect x="518" y="262" width="2" height="1"/>
<rect x="520" y="263" width="2" height="1"/>
<rect x="522" y="264" width="2" height="1"/>
<rect x="524" y="265" width="19" height="1"/>
<rect x="543" y="266" width="3" height="1"/>
<rect x="546" y="267" width="3" height="1"/>
<rect x="549" y="268" width="3" height="1"/>
<rect x="552" y="269" width="2" height="1"/>
<rect x="554" y="270" width="3" height="1"/>
<rect x="557" y="271" width="2" height="1"/>
<rect x="559" y="272" width="2" height="1"/>
<rect x="561" y="273" width="2" height="1"/>
<rect x="563" y="274" width="2" height="1"/>
<rect x="565" y="275" width="1" height="1"/>
<rect x="566" y="276" width="1" height="1"/>
<rect x="567" y="277" width="1" height="1"/>
<rect x="568" y="278" width="1" height="1"/>
<rect x="569" y="279" width="1" height="1"/>
<rect x="570" y="280" width="1" height="1"/>
<rect x="571" y="281" width="1" height="1"/>
<rect x="572" y="282" width="1" height="1"/>
<rect x="573" y="283" width="1" height="1"/>
<rect x="574" y="284" width="1" height="1"/>
<rect x="575" y="285" width="1" height="1"/>
<rect x="576" y="286" width="1" height="1"/>
<rect x="577" y="287" width="1" height="1"/>
<rect x="578" y="288" width="1" height="1"/>
<rect x="579" y="289" width="1" height="1"/>
<rect x="580" y="290" width="1" height="1"/>
<rect x="581" y="291" width="1" height="1"/>
<rect x="582" y="292" width="1" height="1"/>
<rect x="583" y="293" width="2" height="1"/>
<rect x="585" y="294" width="1" height="1"/>
<rect x="586" y="295" width="1" height="1"/>
<rect x="587" y="296" width="1" height="1"/>
<rect x="588" y="297" width="1" height="1"/>
<rect x="589" y="298" width="2" height="1"/>
<rect x="591" y="299" width="1" height="1"/>
<rect x="592" y="300" width="2" height="1"/>
<rect x="594" y="301" width="1" height="1"/>
<rect x="595" y="302" width="2" height="1"/>
<rect x="597" y="303" width="1" height="1"/>
<rect x="598" y="304" width="2" height="1"/>
<rect x="600" y="305" width="1" height="1"/>
<rect x="601" y="306" width="2" height="1"/>
<rect x="603" y="307" width="2" height="1"/>
<rect x="605" y="308" width="1" height="1"/>
<rect x="606" y="309" width="2" height="1"/>
<rect x="608" y="310" width="1" height="1"/>
<rect x="609" y="311" width="2" height="1"/>
<rect x="611" y="312" width="2" height="1"/>
<rect x="613" y="313" width="2" height="1"/>
<rect x="615" y="314" width="4" height="1"/>
<rect x="619" y="315" width="6" height="1"/>
<rect x="625" y="316" width="7" height="1"/>
<rect x="632" y="315" width="4" height="1"/>
<rect x="636" y="314" width="3" height="1"/>
<rect x="639" y="313" width="3" height="1"/>
<rect x="642" y="312" width="2" height="1"/>
<rect x="644" y="311" width="3" height="1"/>
<rect x="647" y="310" width="2" height="1"/>
<rect x="649" y="309" width="2" height="1"/>
<rect x="651" y="308" width="3" height="1"/>
<rect x="654" y="307" width="2" height="1"/>
<rect x="656" y="306" width="2" height="1"/>
<rect x="658" y="305" width="2" height="1"/>
<rect x="660" y="304" width="2" height="1"/>
<rect x="662" y="303" width="1" height="1"/>
<rect x="663" y="302" width="1" height="1"/>
<rect x="664" y="301" width="2" height="1"/>
<rect x="666" y="300" width="1" height="1"/>
<rect x="667" y="299" width="1" height="1"/>
<rect x="668" y="298" width="2" height="1"/>
<rect x="670" y="297" width="1" height="1"/>
<rect x="671" y="296" width="2" height="1"/>
<rect x="673" y="295" width="1" height="1"/>
<rect x="674" y="294" width="2" height="1"/>
<rect x="676" y="293" width="2" height="1"/>
<rect x="678" y="292" width="1" height="1"/>
<rect x="679" y="291" width="2" height="1"/>
<rect x="681" y="290" width="1" height="1"/>
<rect x="682" y="289" width="2" height="1"/>
<rect x="684" y="288" width="2" height="1"/>
<rect x="686" y="287" width="1" height="1"/>
<rect x="687" y="286" width="2" height="1"/>
<rect x="689" y="285" width="1" height="1"/>
<rect x="690" y="284" width="2" height="1"/>
<rect x="692" y="283" width="2" height="1"/>
<rect x="694" y="282" width="4" height="1"/>
<rect x="698" y="281" width="5" height="1"/>
<rect x="703" y="280" width="7" height="1"/>
<rect x="710" y="279" width="1" height="1"/>
<rect x="711" y="278" width="2" height="1"/>
<rect x="713" y="277" width="2" height="1"/>
<rect x="715" y="276" width="2" height="1"/>
<rect x="717" y="275" width="1" height="1"/>
<rect x="718" y="274" width="2" height="1"/>
<rect x="720" y="273" width="2" height="1"/>
<rect x="722" y="272" width="1" height="1"/>
<rect x="723" y="271" width="2" height="1"/>
<rect x="725" y="270" width="1" height="1"/>
<rect x="726" y="269" width="2" height="1"/>
<rect x="728" y="268" width="2" height="1"/>
<rect x="730" y="267" width="2" height="1"/>
<rect x="732" y="266" width="2" height="1"/>
<rect x="734" y="265" width="1" height="1"/>
<rect x="735" y="264" width="2" height="1"/>
<rect x="737" y="263" width="2" height="1"/>
<rect x="739" y="262" width="2" height="1"/>
<rect x="741" y="261" width="1" height="1"/>
<rect x="742" y="260" width="1" height="1"/>
<rect x="743" y="259" width="1" height="1"/>
<rect x="744" y="258" width="1" height="1"/>
<rect x="745" y="257" width="1" height="1"/>
<rect x="746" y="256" width="1" height="1"/>
<rect x="747" y="255" width="1" height="1"/>
<rect x="748" y="254" width="1" height="1"/>
<rect x="749" y="253" width="1" height="1"/>
<rect x="750" y="252" width="1" height="1"/>
<rect x="751" y="251" width="1" height="1"/>
<rect x="752" y="250" width="1" height="1"/>
<rect x="753" y="249" width="1" height="1"/>
<rect x="754" y="248" width="1" height="1"/>
<rect x="755" y="247" width="1" height="1"/>
<rect x="756" y="246" width="1" height="1"/>
<rect x="757" y="245" width="1" height="1"/>
<rect x="758" y="244" width="1" height="1"/>
<rect x="759" y="243" width="1" height="1"/>
<rect x="760" y="242" width="1" height="1"/>
<rect x="761" y="240" width="1" height="2"/>
<rect x="762" y="239" width="1" height="1"/>
<rect x="763" y="238" width="1" height="1"/>
<rect x="764" y="237" width="1" height="1"/>
<rect x="765" y="236" width="1" height="1"/>
<rect x="766" y="235" width="2" height="1"/>
<rect x="768" y="234" width="1" height="1"/>
<rect x="769" y="233" width="1" height="1"/>
<rect x="770" y="232" width="2" height="1"/>
<rect x="772" y="231" width="1" height="1"/>
<rect x="773" y="230" width="1" height="1"/>
<rect x="774" y="229" width="1" height="1"/>
<rect x="775" y="228" width="1" height="1"/>
<rect x="776" y="227" width="1" height="1"/>
<rect x="777" y="226" width="1" height="1"/>
<rect x="778" y="225" width="1" height="1"/>
<rect x="779" y="224" width="1" height="1"/>
<rect x="780" y="223" width="1" height="1"/>
<rect x="781" y="222" width="1" height="1"/>
<rect x="782" y="221" width="1" height="1"/>
<rect x="783" y="220" width="1" height="1"/>
<rect x="784" y="219" width="1" height="1"/>
<rect x="785" y="218" width="1" height="1"/>
<rect x="786" y="217" width="1" height="1"/>
<rect x="787" y="216" width="1" height="1"/>
<rect x="788" y="215" width="2" height="1"/>
<rect x="790" y="214" width="1" height="1"/>
<rect x="791" y="213" width="2" height="1"/>
<rect x="793" y="212" width="1" height="1"/>
<rect x="794" y="211" width="2" height="1"/>
<rect x="796" y="210" width="2" height="1"/>
<rect x="798" y="209" width="2" height="1"/>
<rect x="800" y="208" width="2" height="1"/>
<rect x="802" y="207" width="2" height="1"/>
<rect x="804" y="206" width="2" height="1"/>
<rect x="806" y="205" width="1" height="1"/>
<rect x="807" y="204" width="1" height="1"/>
<rect x="808" y="203" width="2" height="1"/>
<rect x="810" y="202" width="1" height="1"/>
<rect x="811" y="201" width="2" height="1"/>
<rect x="813" y="200" width="1" height="1"/>
<rect x="814" y="199" width="2" height="1"/>
<rect x="816" y="198" width="1" height="1"/>
<rect x="817" y="197" width="2" height="1"/>
<rect x="819" y="196" width="1" height="1"/>
<rect x="820" y="195" width="2" height="1"/>
<rect x="822" y="194" width="1" height="1"/>
<rect x="823" y="193" width="2" height="1"/>
<rect x="825" y="192" width="1" height="1"/>
<rect x="826" y="191" width="2" height="1"/>
<rect x="828" y="190" width="2" height="1"/>
<rect x="830" y="189" width="1" height="1"/>
<rect x="831" y="188" width="2" height="1"/>
<rect x="833" y="187" width="2" height="1"/>
<rect x="835" y="186" width="2" height="1"/>
<rect x="837" y="185" width="2" height="1"/>
<rect x="839" y="184" width="2" height="1"/>
<rect x="841" y="183" width="2" height="1"/>
<rect x="843" y="182" width="2" height="1"/>
<rect x="845" y="181" width="2" height="1"/>
<rect x="847" y="180" width="2" height="1"/>
<rect x="849" y="179" width="2" height="1"/>
<rect x="851" y="178" width="2" height="1"/>
<rect x="853" y="177" width="2" height="1"/>
<rect x="855" y="176" width="3" height="1"/>
<rect x="858" y="175" width="2" height="1"/>
<rect x="860" y="174" width="3" height="1"/>
<rect x="863" y="173" width="3" height="1"/>
<rect x="866" y="172" width="2" height="1"/>
<rect x="868" y="171" width="3" height="1"/>
<rect x="871" y="170" width="3" height="1"/>
<rect x="874" y="169" width="2" height="1"/>
<rect x="876" y="168" width="3" height="1"/>
<rect x="879" y="167" width="3" height="1"/>
<rect x="882" y="166" width="4" height="1"/>
<rect x="886" y="165" width="9" height="1"/>
<rect x="895" y="164" width="2" height="1"/>
<rect x="897" y="163" width="2" height="1"/>
<rect x="899" y="162" width="3" height="1"/>
<rect x="902" y="161" width="2" height="1"/>
<rect x="904" y="160" width="3" height="1"/>
<rect x="907" y="159" width="3" height="1"/>
</g>
<g shape-rendering="crispEdges" clip-path="url(#cm)">
<rect x="5" y="233" width="1" height="43" fill="#ff0000"/>
<rect x="3" y="244" width="5" height="32" fill="#ff0000"/>
<rect x="4" y="245" width="3" height="30" fill="#ff4500"/>
<rect x="13" y="199" width="1" height="51" fill="#ff0000"/>
<rect x="11" y="230" width="5" height="14" fill="#ff0000"/>
<rect x="12" y="231" width="3" height="12" fill="#ff4500"/>
<rect x="21" y="197" width="1" height="39" fill="#ff0000"/>
<rect x="19" y="205" width="5" height="26" fill="#ff0000"/>
<rect x="20" y="206" width="3" height="24" fill="#ff4500"/>
<rect x="29" y="196" width="1" height="16" fill="#ff0000"/>
<rect x="27" y="202" width="5" height="3" fill="#ff0000"/>
<rect x="28" y="203" width="3" height="1" fill="#ff4500"/>
<rect x="37" y="194" width="1" height="38" fill="#ff0000"/>
<rect x="35" y="209" width="5" height="1" fill="#ff0000"/>
<rect x="45" y="199" width="1" height="33" fill="#32cd32"/>
<rect x="43" y="209" width="5" height="21" fill="#32cd32"/>
<rect x="44" y="210" width="3" height="19" fill="#32cd32"/>
<rect x="53" y="186" width="1" height="48" fill="#ff0000"/>
<rect x="51" y="192" width="5" height="38" fill="#ff0000"/>
<rect x="52" y="193" width="3" height="36" fill="#ff4500"/>
<rect x="61" y="158" width="1" height="60" fill="#ff0000"/>
<rect x="59" y="167" width="5" height="25" fill="#ff0000"/>
<rect x="60" y="168" width="3" height="23" fill="#ff4500"/>
<rect x="69" y="150" width="1" height="54" fill="#32cd32"/>
<rect x="67" y="167" width="5" height="29" fill="#32cd32"/>
<rect x="68" y="168" width="3" height="27" fill="#32cd32"/>
<rect x="77" y="187" width="1" height="19" fill="#32cd32"/>
<rect x="75" y="195" width="5" height="9" fill="#32cd32"/>
<rect x="76" y="196" width="3" height="7" fill="#32cd32"/>
<rect x="85" y="166" width="1" height="38" fill="#ff0000"/>
<rect x="83" y="169" width="5" height="35" fill="#ff0000"/>
<rect x="84" y="170" width="3" height="33" fill="#ff4500"/>
<rect x="93" y="127" width="1" height="47" fill="#ff0000"/>
<rect x="91" y="132" width="5" height="37" fill="#ff0000"/>
<rect x="92" y="133" width="3" height="35" fill="#ff4500"/>
<rect x="101" y="104" width="1" height="40" fill="#ff0000"/>
<rect x="99" y="121" width="5" height="11" fill="#ff0000"/>
<rect x="100" y="122" width="3" height="9" fill="#ff4500"/>
<rect x="109" y="86" width="1" height="90" fill="#32cd32"/>
<rect x="107" y="121" width="5" height="22" fill="#32cd32"/>
<rect x="108" y="122" width="3" height="20" fill="#32cd32"/>
<rect x="117" y="138" width="1" height="68" fill="#ff0000"/>
<rect x="115" y="142" width="5" height="2" fill="#ff0000"/>
<rect x="125" y="130" width="1" height="21" fill="#ff0000"/>
<rect x="123" y="130" width="5" height="12" fill="#ff0000"/>
<rect x="124" y="131" width="3" height="10" fill="#ff4500"/>
<rect x="133" y="111" width="1" height="43" fill="#ff0000"/>
<rect x="131" y="126" width="5" height="28" fill="#ff0000"/>
<rect x="132" y="127" width="3" height="26" fill="#ff4500"/>
<rect x="141" y="122" width="1" height="34" fill="#32cd32"/>
<rect x="139" y="126" width="5" height="14" fill="#32cd32"/>
<rect x="140" y="127" width="3" height="12" fill="#32cd32"/>
<rect x="149" y="127" width="1" height="93" fill="#32cd32"/>
<rect x="147" y="139" width="5" height="43" fill="#32cd32"/>
<rect x="148" y="140" width="3" height="41" fill="#32cd32"/>
<rect x="157" y="142" width="1" height="44" fill="#ff0000"/>
<rect x="155" y="151" width="5" height="31" fill="#ff0000"/>
<rect x="156" y="152" width="3" height="29" fill="#ff4500"/>
<rect x="165" y="95" width="1" height="57" fill="#ff0000"/>
<rect x="163" y="129" width="5" height="23" fill="#ff0000"/>
<rect x="164" y="130" width="3" height="21" fill="#ff4500"/>
<rect x="173" y="110" width="1" height="24" fill="#ff0000"/>
<rect x="171" y="123" width="5" height="7" fill="#ff0000"/>
<rect x="172" y="124" width="3" height="5" fill="#ff4500"/>
<rect x="181" y="76" width="1" height="51" fill="#ff0000"/>
<rect x="179" y="90" width="5" height="34" fill="#ff0000"/>
<rect x="180" y="91" width="3" height="32" fill="#ff4500"/>
<rect x="189" y="55" width="1" height="47" fill="#32cd32"/>
<rect x="187" y="91" width="5" height="2" fill="#32cd32"/>
<rect x="197" y="77" width="1" height="45" fill="#32cd32"/>
<rect x="195" y="92" width="5" height="10" fill="#32cd32"/>
<rect x="196" y="93" width="3" height="8" fill="#32cd32"/>
<rect x="205" y="96" width="1" height="46" fill="#32cd32"/>
<rect x="203" y="102" width="5" height="18" fill="#32cd32"/>
<rect x="204" y="103" width="3" height="16" fill="#32cd32"/>
<rect x="213" y="93" width="1" height="76" fill="#32cd32"/>
<rect x="211" y="117" width="5" height="34" fill="#32cd32"/>
<rect x="212" y="118" width="3" height="32" fill="#32cd32"/>
<rect x="221" y="148" width="1" height="36" fill="#32cd32"/>
<rect x="219" y="151" width="5" height="27" fill="#32cd32"/>
<rect x="220" y="152" width="3" height="25" fill="#32cd32"/>
<rect x="229" y="169" width="1" height="75" fill="#32cd32"/>
<rect x="227" y="184" width="5" height="48" fill="#32cd32"/>
<rect x="228" y="185" width="3" height="46" fill="#32cd32"/>
<rect x="237" y="224" width="1" height="38" fill="#32cd32"/>
<rect x="235" y="232" width="5" height="4" fill="#32cd32"/>
<rect x="236" y="233" width="3" height="2" fill="#32cd32"/>
<rect x="245" y="215" width="1" height="29" fill="#ff0000"/>
<rect x="243" y="218" width="5" height="18" fill="#ff0000"/>
<rect x="244" y="219" width="3" height="16" fill="#ff4500"/>
<rect x="253" y="214" width="1" height="36" fill="#32cd32"/>
<rect x="251" y="218" width="5" height="7" fill="#32cd32"/>
<rect x="252" y="219" width="3" height="5" fill="#32cd32"/>
<rect x="261" y="194" width="1" height="44" fill="#ff0000"/>
<rect x="259" y="199" width="5" height="27" fill="#ff0000"/>
<rect x="260" y="200" width="3" height="25" fill="#ff4500"/>
<rect x="269" y="194" width="1" height="9" fill="#32cd32"/>
<rect x="267" y="199" width="5" height="1" fill="#32cd32"/>
<rect x="277" y="182" width="1" height="37" fill="#ff0000"/>
<rect x="275" y="186" width="5" height="18" fill="#ff0000"/>
<rect x="276" y="187" width="3" height="16" fill="#ff4500"/>
<rect x="285" y="172" width="1" height="28" fill="#ff0000"/>
<rect x="283" y="185" width="5" height="3" fill="#ff0000"/>
<rect x="284" y="186" width="3" height="1" fill="#ff4500"/>
<rect x="293" y="170" width="1" height="24" fill="#ff0000"/>
<rect x="291" y="172" width="5" height="14" fill="#ff0000"/>
<rect x="292" y="173" width="3" height="12" fill="#ff4500"/>
<rect x="301" y="171" width="1" height="82" fill="#32cd32"/>
<rect x="299" y="172" width="5" height="42" fill="#32cd32"/>
<rect x="300" y="173" width="3" height="40" fill="#32cd32"/>
<rect x="309" y="171" width="1" height="53" fill="#ff0000"/>
<rect x="307" y="184" width="5" height="30" fill="#ff0000"/>
<rect x="308" y="185" width="3" height="28" fill="#ff4500"/>
<rect x="317" y="175" width="1" height="16" fill="#ff0000"/>
<rect x="315" y="178" width="5" height="6" fill="#ff0000"/>
<rect x="316" y="179" width="3" height="4" fill="#ff4500"/>
<rect x="325" y="179" width="1" height="31" fill="#32cd32"/>
<rect x="323" y="182" width="5" height="10" fill="#32cd32"/>
<rect x="324" y="183" width="3" height="8" fill="#32cd32"/>
<rect x="333" y="185" width="1" height="55" fill="#32cd32"/>
<rect x="331" y="192" width="5" height="10" fill="#32cd32"/>
<rect x="332" y="193" width="3" height="8" fill="#32cd32"/>
<rect x="341" y="168" width="1" height="38" fill="#ff0000"/>
<rect x="339" y="191" width="5" height="11" fill="#ff0000"/>
<rect x="340" y="192" width="3" height="9" fill="#ff4500"/>
<rect x="349" y="186" width="1" height="88" fill="#32cd32"/>
<rect x="347" y="191" width="5" height="61" fill="#32cd32"/>
<rect x="348" y="192" width="3" height="59" fill="#32cd32"/>
<rect x="357" y="229" width="1" height="37" fill="#32cd32"/>
<rect x="355" y="251" width="5" height="1" fill="#32cd32"/>
<rect x="365" y="248" width="1" height="32" fill="#32cd32"/>
<rect x="363" y="252" width="5" height="25" fill="#32cd32"/>
<rect x="364" y="253" width="3" height="23" fill="#32cd32"/>
<rect x="373" y="261" width="1" height="39" fill="#32cd32"/>
<rect x="371" y="267" width="5" height="11" fill="#32cd32"/>
<rect x="372" y="268" width="3" height="9" fill="#32cd32"/>
<rect x="381" y="249" width="1" height="55" fill="#ff0000"/>
<rect x="379" y="250" width="5" height="28" fill="#ff0000"/>
<rect x="380" y="251" width="3" height="26" fill="#ff4500"/>
<rect x="389" y="208" width="1" height="46" fill="#ff0000"/>
<rect x="387" y="248" width="5" height="2" fill="#ff0000"/>
<rect x="397" y="218" width="1" height="40" fill="#ff0000"/>
<rect x="395" y="235" width="5" height="13" fill="#ff0000"/>
<rect x="396" y="236" width="3" height="11" fill="#ff4500"/>
<rect x="405" y="191" width="1" height="55" fill="#ff0000"/>
<rect x="403" y="208" width="5" height="28" fill="#ff0000"/>
<rect x="404" y="209" width="3" height="26" fill="#ff4500"/>
<rect x="413" y="195" width="1" height="15" fill="#ff0000"/>
<rect x="411" y="195" width="5" height="13" fill="#ff0000"/>
<rect x="412" y="196" width="3" height="11" fill="#ff4500"/>
<rect x="421" y="192" width="1" height="62" fill="#32cd32"/>
<rect x="419" y="202" width="5" height="26" fill="#32cd32"/>
<rect x="420" y="203" width="3" height="24" fill="#32cd32"/>
<rect x="429" y="227" width="1" height="43" fill="#32cd32"/>
<rect x="427" y="228" width="5" height="16" fill="#32cd32"/>
<rect x="428" y="229" width="3" height="14" fill="#32cd32"/>
<rect x="437" y="230" width="1" height="34" fill="#ff0000"/>
<rect x="435" y="242" width="5" height="2" fill="#ff0000"/>
<rect x="445" y="217" width="1" height="87" fill="#ff0000"/>
<rect x="443" y="238" width="5" height="4" fill="#ff0000"/>
<rect x="444" y="239" width="3" height="2" fill="#ff4500"/>
<rect x="453" y="234" width="1" height="92" fill="#32cd32"/>
<rect x="451" y="238" width="5" height="24" fill="#32cd32"/>
<rect x="452" y="239" width="3" height="22" fill="#32cd32"/>
<rect x="461" y="221" width="1" height="49" fill="#ff0000"/>
<rect x="459" y="223" width="5" height="39" fill="#ff0000"/>
<rect x="460" y="224" width="3" height="37" fill="#ff4500"/>
<rect x="469" y="221" width="1" height="83" fill="#32cd32"/>
<rect x="467" y="233" width="5" height="45" fill="#32cd32"/>
<rect x="468" y="234" width="3" height="43" fill="#32cd32"/>
<rect x="477" y="275" width="1" height="37" fill="#32cd32"/>
<rect x="475" y="277" width="5" height="29" fill="#32cd32"/>
<rect x="476" y="278" width="3" height="27" fill="#32cd32"/>
<rect x="485" y="242" width="1" height="74" fill="#ff0000"/>
<rect x="483" y="274" width="5" height="38" fill="#ff0000"/>
<rect x="484" y="275" width="3" height="36" fill="#ff4500"/>
<rect x="493" y="210" width="1" height="116" fill="#ff0000"/>
<rect x="491" y="271" width="5" height="4" fill="#ff0000"/>
<rect x="492" y="272" width="3" height="2" fill="#ff4500"/>
<rect x="501" y="260" width="1" height="114" fill="#32cd32"/>
<rect x="499" y="272" width="5" height="54" fill="#32cd32"/>
<rect x="500" y="273" width="3" height="52" fill="#32cd32"/>
<rect x="509" y="308" width="1" height="26" fill="#ff0000"/>
<rect x="507" y="310" width="5" height="16" fill="#ff0000"/>
<rect x="508" y="311" width="3" height="14" fill="#ff4500"/>
<rect x="517" y="293" width="1" height="43" fill="#ff0000"/>
<rect x="515" y="314" width="5" height="14" fill="#ff0000"/>
<rect x="516" y="315" width="3" height="12" fill="#ff4500"/>
<rect x="525" y="310" width="1" height="50" fill="#32cd32"/>
<rect x="523" y="314" width="5" height="40" fill="#32cd32"/>
<rect x="524" y="315" width="3" height="38" fill="#32cd32"/>
<rect x="533" y="275" width="1" height="91" fill="#ff0000"/>
<rect x="531" y="284" width="5" height="70" fill="#ff0000"/>
<rect x="532" y="285" width="3" height="68" fill="#ff4500"/>
<rect x="541" y="250" width="1" height="70" fill="#ff0000"/>
<rect x="539" y="275" width="5" height="9" fill="#ff0000"/>
<rect x="540" y="276" width="3" height="7" fill="#ff4500"/>
<rect x="549" y="262" width="1" height="52" fill="#32cd32"/>
<rect x="547" y="275" width="5" height="35" fill="#32cd32"/>
<rect x="548" y="276" width="3" height="33" fill="#32cd32"/>
<rect x="557" y="298" width="1" height="16" fill="#ff0000"/>
<rect x="555" y="303" width="5" height="7" fill="#ff0000"/>
<rect x="556" y="304" width="3" height="5" fill="#ff4500"/>
<rect x="565" y="298" width="1" height="76" fill="#32cd32"/>
<rect x="563" y="300" width="5" height="50" fill="#32cd32"/>
<rect x="564" y="301" width="3" height="48" fill="#32cd32"/>
<rect x="573" y="331" width="1" height="43" fill="#32cd32"/>
<rect x="571" y="349" width="5" height="1" fill="#32cd32"/>
<rect x="581" y="344" width="1" height="84" fill="#32cd32"/>
<rect x="579" y="349" width="5" height="43" fill="#32cd32"/>
<rect x="580" y="350" width="3" height="41" fill="#32cd32"/>
<rect x="589" y="352" width="1" height="90" fill="#ff0000"/>
<rect x="587" y="362" width="5" height="30" fill="#ff0000"/>
<rect x="588" y="363" width="3" height="28" fill="#ff4500"/>
<rect x="597" y="311" width="1" height="51" fill="#ff0000"/>
<rect x="595" y="338" width="5" height="24" fill="#ff0000"/>
<rect x="596" y="339" width="3" height="22" fill="#ff4500"/>
<rect x="605" y="321" width="1" height="21" fill="#ff0000"/>
<rect x="603" y="322" width="5" height="16" fill="#ff0000"/>
<rect x="604" y="323" width="3" height="14" fill="#ff4500"/>
<rect x="613" y="321" width="1" height="41" fill="#32cd32"/>
<rect x="611" y="333" width="5" height="21" fill="#32cd32"/>
<rect x="612" y="334" width="3" height="19" fill="#32cd32"/>
<rect x="621" y="298" width="1" height="66" fill="#ff0000"/>
<rect x="619" y="308" width="5" height="46" fill="#ff0000"/>
<rect x="620" y="309" width="3" height="44" fill="#ff4500"/>
<rect x="629" y="260" width="1" height="48" fill="#ff0000"/>
<rect x="627" y="265" width="5" height="43" fill="#ff0000"/>
<rect x="628" y="266" width="3" height="41" fill="#ff4500"/>
<rect x="637" y="218" width="1" height="62" fill="#ff0000"/>
<rect x="635" y="228" width="5" height="37" fill="#ff0000"/>
<rect x="636" y="229" width="3" height="35" fill="#ff4500"/>
<rect x="645" y="215" width="1" height="25" fill="#ff0000"/>
<rect x="643" y="218" width="5" height="10" fill="#ff0000"/>
<rect x="644" y="219" width="3" height="8" fill="#ff4500"/>
<rect x="653" y="214" width="1" height="10" fill="#32cd32"/>
<rect x="651" y="218" width="5" height="3" fill="#32cd32"/>
<rect x="652" y="219" width="3" height="1" fill="#32cd32"/>
<rect x="661" y="187" width="1" height="39" fill="#ff0000"/>
<rect x="659" y="197" width="5" height="27" fill="#ff0000"/>
<rect x="660" y="198" width="3" height="25" fill="#ff4500"/>
<rect x="669" y="188" width="1" height="24" fill="#32cd32"/>
<rect x="667" y="197" width="5" height="1" fill="#32cd32"/>
<rect x="677" y="185" width="1" height="31" fill="#32cd32"/>
<rect x="675" y="198" width="5" height="18" fill="#32cd32"/>
<rect x="676" y="199" width="3" height="16" fill="#32cd32"/>
<rect x="685" y="206" width="1" height="32" fill="#32cd32"/>
<rect x="683" y="215" width="5" height="9" fill="#32cd32"/>
<rect x="684" y="216" width="3" height="7" fill="#32cd32"/>
<rect x="693" y="197" width="1" height="43" fill="#32cd32"/>
<rect x="691" y="224" width="5" height="16" fill="#32cd32"/>
<rect x="692" y="225" width="3" height="14" fill="#32cd32"/>
<rect x="701" y="235" width="1" height="11" fill="#32cd32"/>
<rect x="699" y="239" width="5" height="3" fill="#32cd32"/>
<rect x="700" y="240" width="3" height="1" fill="#32cd32"/>
<rect x="709" y="238" width="1" height="22" fill="#32cd32"/>
<rect x="707" y="241" width="5" height="17" fill="#32cd32"/>
<rect x="708" y="242" width="3" height="15" fill="#32cd32"/>
<rect x="717" y="218" width="1" height="48" fill="#ff0000"/>
<rect x="715" y="223" width="5" height="35" fill="#ff0000"/>
<rect x="716" y="224" width="3" height="33" fill="#ff4500"/>
<rect x="725" y="180" width="1" height="50" fill="#ff0000"/>
<rect x="723" y="193" width="5" height="31" fill="#ff0000"/>
<rect x="724" y="194" width="3" height="29" fill="#ff4500"/>
<rect x="733" y="182" width="1" height="80" fill="#32cd32"/>
<rect x="731" y="192" width="5" height="60" fill="#32cd32"/>
<rect x="732" y="193" width="3" height="58" fill="#32cd32"/>
<rect x="741" y="210" width="1" height="42" fill="#ff0000"/>
<rect x="739" y="231" width="5" height="21" fill="#ff0000"/>
<rect x="740" y="232" width="3" height="19" fill="#ff4500"/>
<rect x="749" y="220" width="1" height="22" fill="#ff0000"/>
<rect x="747" y="220" width="5" height="12" fill="#ff0000"/>
<rect x="748" y="221" width="3" height="10" fill="#ff4500"/>
<rect x="757" y="181" width="1" height="42" fill="#ff0000"/>
<rect x="755" y="198" width="5" height="24" fill="#ff0000"/>
<rect x="756" y="199" width="3" height="22" fill="#ff4500"/>
<rect x="765" y="156" width="1" height="45" fill="#ff0000"/>
<rect x="763" y="174" width="5" height="26" fill="#ff0000"/>
<rect x="764" y="175" width="3" height="24" fill="#ff4500"/>
<rect x="773" y="162" width="1" height="27" fill="#ff0000"/>
<rect x="771" y="167" width="5" height="7" fill="#ff0000"/>
<rect x="772" y="168" width="3" height="5" fill="#ff4500"/>
<rect x="781" y="148" width="1" height="24" fill="#000"/>
<rect x="779" y="167" width="5" height="1" fill="#000"/>
<rect x="789" y="149" width="1" height="29" fill="#32cd32"/>
<rect x="787" y="167" width="5" height="5" fill="#32cd32"/>
<rect x="788" y="168" width="3" height="3" fill="#32cd32"/>
<rect x="797" y="167" width="1" height="13" fill="#32cd32"/>
<rect x="795" y="171" width="5" height="5" fill="#32cd32"/>
<rect x="796" y="172" width="3" height="3" fill="#32cd32"/>
<rect x="805" y="125" width="1" height="61" fill="#ff0000"/>
<rect x="803" y="136" width="5" height="48" fill="#ff0000"/>
<rect x="804" y="137" width="3" height="46" fill="#ff4500"/>
<rect x="813" y="88" width="1" height="54" fill="#ff0000"/>
<rect x="811" y="107" width="5" height="29" fill="#ff0000"/>
<rect x="812" y="108" width="3" height="27" fill="#ff4500"/>
<rect x="821" y="103" width="1" height="31" fill="#ff0000"/>
<rect x="819" y="103" width="5" height="5" fill="#ff0000"/>
<rect x="820" y="104" width="3" height="3" fill="#ff4500"/>
<rect x="829" y="83" width="1" height="43" fill="#32cd32"/>
<rect x="827" y="103" width="5" height="5" fill="#32cd32"/>
<rect x="828" y="104" width="3" height="3" fill="#32cd32"/>
<rect x="837" y="91" width="1" height="43" fill="#32cd32"/>
<rect x="835" y="107" width="5" height="3" fill="#32cd32"/>
<rect x="836" y="108" width="3" height="1" fill="#32cd32"/>
<rect x="845" y="108" width="1" height="26" fill="#32cd32"/>
<rect x="843" y="110" width="5" height="20" fill="#32cd32"/>
<rect x="844" y="111" width="3" height="18" fill="#32cd32"/>
<rect x="853" y="128" width="1" height="26" fill="#32cd32"/>
<rect x="851" y="134" width="5" height="4" fill="#32cd32"/>
<rect x="852" y="135" width="3" height="2" fill="#32cd32"/>
<rect x="861" y="118" width="1" height="52" fill="#32cd32"/>
<rect x="859" y="137" width="5" height="21" fill="#32cd32"/>
<rect x="860" y="138" width="3" height="19" fill="#32cd32"/>
<rect x="869" y="156" width="1" height="26" fill="#32cd32"/>
<rect x="867" y="158" width="5" height="22" fill="#32cd32"/>
<rect x="868" y="159" width="3" height="20" fill="#32cd32"/>
<rect x="877" y="154" width="1" height="40" fill="#ff0000"/>
<rect x="875" y="179" width="5" height="2" fill="#ff0000"/>
<rect x="885" y="152" width="1" height="34" fill="#ff0000"/>
<rect x="883" y="177" width="5" height="3" fill="#ff0000"/>
<rect x="884" y="178" width="3" height="1" fill="#ff4500"/>
<rect x="893" y="173" width="1" height="15" fill="#ff0000"/>
<rect x="891" y="174" width="5" height="4" fill="#ff0000"/>
<rect x="892" y="175" width="3" height="2" fill="#ff4500"/>
<rect x="901" y="167" width="1" height="25" fill="#32cd32"/>
<rect x="899" y="173" width="5" height="2" fill="#32cd32"/>
<rect x="909" y="170" width="1" height="6" fill="#ff0000"/>
<rect x="907" y="174" width="5" height="1" fill="#ff0000"/>
</g>
<g shape-rendering="crispEdges">
<rect x="746" y="76" width="227" height="2" fill="#ff2222"/>
<rect x="739" y="145" width="232" height="2" fill="#8cc800"/>
<rect x="662" y="247" width="310" height="2" fill="#1e82dc"/>
</g>
<g shape-rendering="crispEdges" clip-path="url(#c2)">
<rect x="5" y="461" width="1" height="32" fill="#c0c0c0"/>
<rect x="13" y="462" width="1" height="31" fill="#c0c0c0"/>
<rect x="21" y="461" width="1" height="32" fill="#c0c0c0"/>
<rect x="29" y="460" width="1" height="33" fill="#c0c0c0"/>
<rect x="37" y="460" width="1" height="33" fill="#c0c0c0"/>
<rect x="45" y="460" width="1" height="33" fill="#c0c0c0"/>
<rect x="53" y="460" width="1" height="33" fill="#c0c0c0"/>
<rect x="61" y="460" width="1" height="33" fill="#c0c0c0"/>
<rect x="69" y="460" width="1" height="33" fill="#c0c0c0"/>
<rect x="77" y="460" width="1" height="33" fill="#c0c0c0"/>
<rect x="85" y="461" width="1" height="32" fill="#c0c0c0"/>
<rect x="93" y="461" width="1" height="32" fill="#c0c0c0"/>
<rect x="101" y="461" width="1" height="32" fill="#c0c0c0"/>
<rect x="109" y="462" width="1" height="31" fill="#c0c0c0"/>
<rect x="117" y="462" width="1" height="31" fill="#c0c0c0"/>
<rect x="125" y="463" width="1" height="30" fill="#c0c0c0"/>
<rect x="133" y="463" width="1" height="30" fill="#c0c0c0"/>
<rect x="141" y="464" width="1" height="29" fill="#c0c0c0"/>
<rect x="149" y="465" width="1" height="28" fill="#c0c0c0"/>
<rect x="157" y="466" width="1" height="27" fill="#c0c0c0"/>
<rect x="165" y="467" width="1" height="26" fill="#c0c0c0"/>
<rect x="173" y="467" width="1" height="26" fill="#c0c0c0"/>
<rect x="181" y="466" width="1" height="27" fill="#c0c0c0"/>
<rect x="189" y="466" width="1" height="27" fill="#c0c0c0"/>
<rect x="197" y="467" width="1" height="26" fill="#c0c0c0"/>
<rect x="205" y="468" width="1" height="25" fill="#c0c0c0"/>
<rect x="213" y="471" width="1" height="22" fill="#c0c0c0"/>
<rect x="221" y="475" width="1" height="18" fill="#c0c0c0"/>
<rect x="229" y="481" width="1" height="12" fill="#c0c0c0"/>
<rect x="237" y="487" width="1" height="6" fill="#c0c0c0"/>
<rect x="245" y="490" width="1" height="3" fill="#c0c0c0"/>
<rect x="261" y="492" width="1" height="2" fill="#c0c0c0"/>
<rect x="269" y="492" width="1" height="2" fill="#c0c0c0"/>
<rect x="277" y="492" width="1" height="2" fill="#c0c0c0"/>
<rect x="333" y="492" width="1" height="2" fill="#c0c0c0"/>
<rect x="341" y="492" width="1" height="2" fill="#c0c0c0"/>
<rect x="349" y="492" width="1" height="5" fill="#c0c0c0"/>
<rect x="357" y="492" width="1" height="8" fill="#c0c0c0"/>
<rect x="365" y="492" width="1" height="11" fill="#c0c0c0"/>
<rect x="373" y="492" width="1" height="13" fill="#c0c0c0"/>
<rect x="381" y="492" width="1" height="13" fill="#c0c0c0"/>
<rect x="389" y="492" width="1" height="13" fill="#c0c0c0"/>
<rect x="397" y="492" width="1" height="11" fill="#c0c0c0"/>
<rect x="405" y="492" width="1" height="9" fill="#c0c0c0"/>
<rect x="413" y="492" width="1" height="8" fill="#c0c0c0"/>
<rect x="421" y="492" width="1" height="8" fill="#c0c0c0"/>
<rect x="429" y="492" width="1" height="9" fill="#c0c0c0"/>
<rect x="437" y="492" width="1" height="9" fill="#c0c0c0"/>
<rect x="445" y="492" width="1" height="9" fill="#c0c0c0"/>
<rect x="453" y="492" width="1" height="9" fill="#c0c0c0"/>
<rect x="461" y="492" width="1" height="8" fill="#c0c0c0"/>
<rect x="469" y="492" width="1" height="9" fill="#c0c0c0"/>
<rect x="477" y="492" width="1" height="12" fill="#c0c0c0"/>
<rect x="485" y="492" width="1" height="13" fill="#c0c0c0"/>
<rect x="493" y="492" width="1" height="12" fill="#c0c0c0"/>
<rect x="501" y="492" width="1" height="15" fill="#c0c0c0"/>
<rect x="509" y="492" width="1" height="17" fill="#c0c0c0"/>
<rect x="517" y="492" width="1" height="18" fill="#c0c0c0"/>
<rect x="525" y="492" width="1" height="20" fill="#c0c0c0"/>
<rect x="533" y="492" width="1" height="19" fill="#c0c0c0"/>
<rect x="541" y="492" width="1" height="17" fill="#c0c0c0"/>
<rect x="549" y="492" width="1" height="17" fill="#c0c0c0"/>
<rect x="557" y="492" width="1" height="17" fill="#c0c0c0"/>
<rect x="565" y="492" width="1" height="17" fill="#c0c0c0"/>
<rect x="573" y="492" width="1" height="18" fill="#c0c0c0"/>
<rect x="581" y="492" width="1" height="21" fill="#c0c0c0"/>
<rect x="589" y="492" width="1" height="22" fill="#c0c0c0"/>
<rect x="597" y="492" width="1" height="21" fill="#c0c0c0"/>
<rect x="605" y="492" width="1" height="19" fill="#c0c0c0"/>
<rect x="613" y="492" width="1" height="20" fill="#c0c0c0"/>
<rect x="621" y="492" width="1" height="17" fill="#c0c0c0"/>
<rect x="629" y="492" width="1" height="12" fill="#c0c0c0"/>
<rect x="637" y="492" width="1" height="7" fill="#c0c0c0"/>
<rect x="645" y="492" width="1" height="2" fill="#c0c0c0"/>
<rect x="653" y="490" width="1" height="3" fill="#c0c0c0"/>
<rect x="661" y="486" width="1" height="7" fill="#c0c0c0"/>
<rect x="669" y="483" width="1" height="10" fill="#c0c0c0"/>
<rect x="677" y="482" width="1" height="11" fill="#c0c0c0"/>
<rect x="685" y="481" width="1" height="12" fill="#c0c0c0"/>
<rect x="693" y="482" width="1" height="11" fill="#c0c0c0"/>
<rect x="701" y="482" width="1" height="11" fill="#c0c0c0"/>
<rect x="709" y="484" width="1" height="9" fill="#c0c0c0"/>
<rect x="717" y="483" width="1" height="10" fill="#c0c0c0"/>
<rect x="725" y="481" width="1" height="12" fill="#c0c0c0"/>
<rect x="733" y="482" width="1" height="11" fill="#c0c0c0"/>
<rect x="741" y="483" width="1" height="10" fill="#c0c0c0"/>
<rect x="749" y="482" width="1" height="11" fill="#c0c0c0"/>
<rect x="757" y="482" width="1" height="11" fill="#c0c0c0"/>
<rect x="765" y="480" width="1" height="13" fill="#c0c0c0"/>
<rect x="773" y="478" width="1" height="15" fill="#c0c0c0"/>
<rect x="781" y="477" width="1" height="16" fill="#c0c0c0"/>
<rect x="789" y="477" width="1" height="16" fill="#c0c0c0"/>
<rect x="797" y="476" width="1" height="17" fill="#c0c0c0"/>
<rect x="805" y="475" width="1" height="18" fill="#c0c0c0"/>
<rect x="813" y="472" width="1" height="21" fill="#c0c0c0"/>
<rect x="821" y="470" width="1" height="23" fill="#c0c0c0"/>
<rect x="829" y="468" width="1" height="25" fill="#c0c0c0"/>
<rect x="837" y="468" width="1" height="25" fill="#c0c0c0"/>
<rect x="845" y="469" width="1" height="24" fill="#c0c0c0"/>
<rect x="853" y="470" width="1" height="23" fill="#c0c0c0"/>
<rect x="861" y="472" width="1" height="21" fill="#c0c0c0"/>
<rect x="869" y="476" width="1" height="17" fill="#c0c0c0"/>
<rect x="877" y="479" width="1" height="14" fill="#c0c0c0"/>
<rect x="885" y="481" width="1" height="12" fill="#c0c0c0"/>
<rect x="893" y="482" width="1" height="11" fill="#c0c0c0"/>
<rect x="901" y="484" width="1" height="9" fill="#c0c0c0"/>
<rect x="909" y="484" width="1" height="9" fill="#c0c0c0"/>
</g>
<g shape-rendering="crispEdges" clip-path="url(#c2)" fill="#ff0000">
<rect x="5" y="461" width="3" height="1"/>
<rect x="11" y="461" width="3" height="1"/>
<rect x="17" y="461" width="3" height="1"/>
<rect x="23" y="461" width="3" height="1"/>
<rect x="29" y="461" width="3" height="1"/>
<rect x="35" y="461" width="3" height="1"/>
<rect x="41" y="461" width="3" height="1"/>
<rect x="47" y="461" width="3" height="1"/>
<rect x="53" y="461" width="3" height="1"/>
<rect x="59" y="461" width="3" height="1"/>
<rect x="65" y="461" width="3" height="1"/>
<rect x="71" y="461" width="3" height="1"/>
<rect x="77" y="461" width="3" height="1"/>
<rect x="83" y="461" width="3" height="1"/>
<rect x="89" y="461" width="3" height="1"/>
<rect x="95" y="461" width="3" height="1"/>
<rect x="101" y="461" width="3" height="1"/>
<rect x="107" y="461" width="3" height="1"/>
<rect x="113" y="461" width="3" height="1"/>
<rect x="119" y="461" width="3" height="1"/>
<rect x="125" y="461" width="3" height="1"/>
<rect x="131" y="461" width="3" height="1"/>
<rect x="137" y="461" width="3" height="1"/>
<rect x="143" y="461" width="3" height="1"/>
<rect x="149" y="461" width="3" height="1"/>
<rect x="155" y="461" width="3" height="1"/>
<rect x="161" y="462" width="3" height="1"/>
<rect x="167" y="463" width="3" height="1"/>
<rect x="173" y="464" width="3" height="1"/>
<rect x="179" y="464" width="2" height="1"/>
<rect x="181" y="465" width="1" height="1"/>
<rect x="185" y="465" width="3" height="1"/>
<rect x="191" y="465" width="3" height="1"/>
<rect x="197" y="466" width="3" height="1"/>
<rect x="203" y="466" width="2" height="1"/>
<rect x="205" y="467" width="1" height="1"/>
<rect x="209" y="467" width="3" height="1"/>
<rect x="215" y="468" width="3" height="1"/>
<rect x="221" y="469" width="3" height="1"/>
<rect x="227" y="469" width="2" height="1"/>
<rect x="229" y="470" width="1" height="1"/>
<rect x="233" y="470" width="2" height="1"/>
<rect x="235" y="471" width="1" height="1"/>
<rect x="239" y="472" width="3" height="1"/>
<rect x="245" y="474" width="2" height="1"/>
<rect x="247" y="475" width="1" height="1"/>
<rect x="251" y="476" width="1" height="1"/>
<rect x="252" y="477" width="2" height="1"/>
<rect x="257" y="479" width="3" height="1"/>
<rect x="263" y="481" width="2" height="1"/>
<rect x="265" y="482" width="1" height="1"/>
<rect x="269" y="483" width="2" height="1"/>
<rect x="271" y="484" width="1" height="1"/>
<rect x="275" y="485" width="1" height="1"/>
<rect x="276" y="486" width="2" height="1"/>
<rect x="281" y="487" width="2" height="1"/>
<rect x="283" y="488" width="1" height="1"/>
<rect x="287" y="489" width="3" height="1"/>
<rect x="293" y="490" width="3" height="1"/>
<rect x="299" y="491" width="2" height="1"/>
<rect x="301" y="492" width="1" height="1"/>
<rect x="305" y="492" width="3" height="1"/>
<rect x="311" y="493" width="3" height="1"/>
<rect x="317" y="493" width="3" height="1"/>
<rect x="323" y="493" width="3" height="1"/>
<rect x="329" y="493" width="3" height="1"/>
<rect x="335" y="493" width="3" height="1"/>
<rect x="341" y="493" width="2" height="1"/>
<rect x="343" y="494" width="1" height="1"/>
<rect x="347" y="494" width="2" height="1"/>
<rect x="349" y="495" width="1" height="1"/>
<rect x="353" y="495" width="3" height="1"/>
<rect x="359" y="496" width="3" height="1"/>
<rect x="365" y="496" width="3" height="1"/>
<rect x="371" y="497" width="3" height="1"/>
<rect x="377" y="498" width="3" height="1"/>
<rect x="383" y="499" width="3" height="1"/>
<rect x="389" y="499" width="1" height="1"/>
<rect x="390" y="500" width="2" height="1"/>
<rect x="395" y="501" width="3" height="1"/>
<rect x="401" y="502" width="3" height="1"/>
<rect x="407" y="502" width="3" height="1"/>
<rect x="413" y="502" width="3" height="1"/>
<rect x="419" y="502" width="3" height="1"/>
<rect x="425" y="502" width="3" height="1"/>
<rect x="431" y="502" width="3" height="1"/>
<rect x="437" y="502" width="3" height="1"/>
<rect x="443" y="502" width="3" height="1"/>
<rect x="449" y="502" width="2" height="1"/>
<rect x="451" y="501" width="1" height="1"/>
<rect x="455" y="501" width="3" height="1"/>
<rect x="461" y="501" width="3" height="1"/>
<rect x="467" y="501" width="3" height="1"/>
<rect x="473" y="501" width="3" height="1"/>
<rect x="479" y="501" width="3" height="1"/>
<rect x="485" y="501" width="3" height="1"/>
<rect x="491" y="501" width="2" height="1"/>
<rect x="493" y="502" width="1" height="1"/>
<rect x="497" y="502" width="3" height="1"/>
<rect x="503" y="503" width="3" height="1"/>
<rect x="509" y="503" width="2" height="1"/>
<rect x="511" y="504" width="1" height="1"/>
<rect x="515" y="504" width="3" height="1"/>
<rect x="521" y="505" width="3" height="1"/>
<rect x="527" y="506" width="2" height="1"/>
<rect x="529" y="507" width="1" height="1"/>
<rect x="533" y="508" width="3" height="1"/>
<rect x="539" y="508" width="3" height="1"/>
<rect x="545" y="508" width="3" height="1"/>
<rect x="551" y="508" width="3" height="1"/>
<rect x="557" y="509" width="3" height="1"/>
<rect x="563" y="509" width="3" height="1"/>
<rect x="569" y="509" width="3" height="1"/>
<rect x="575" y="509" width="3" height="1"/>
<rect x="581" y="510" width="3" height="1"/>
<rect x="587" y="510" width="3" height="1"/>
<rect x="593" y="510" width="3" height="1"/>
<rect x="599" y="511" width="3" height="1"/>
<rect x="605" y="511" width="3" height="1"/>
<rect x="611" y="511" width="3" height="1"/>
<rect x="617" y="511" width="3" height="1"/>
<rect x="623" y="511" width="2" height="1"/>
<rect x="625" y="510" width="1" height="1"/>
<rect x="629" y="510" width="3" height="1"/>
<rect x="635" y="509" width="3" height="1"/>
<rect x="641" y="508" width="2" height="1"/>
<rect x="643" y="507" width="1" height="1"/>
<rect x="647" y="506" width="2" height="1"/>
<rect x="649" y="505" width="1" height="1"/>
<rect x="653" y="504" width="1" height="1"/>
<rect x="654" y="503" width="2" height="1"/>
<rect x="659" y="502" width="1" height="1"/>
<rect x="660" y="501" width="2" height="1"/>
<rect x="665" y="499" width="2" height="1"/>
<rect x="667" y="498" width="1" height="1"/>
<rect x="671" y="497" width="1" height="1"/>
<rect x="672" y="496" width="2" height="1"/>
<rect x="677" y="494" width="2" height="1"/>
<rect x="679" y="493" width="1" height="1"/>
<rect x="683" y="491" width="3" height="1"/>
<rect x="689" y="489" width="3" height="1"/>
<rect x="695" y="488" width="3" height="1"/>
<rect x="701" y="487" width="2" height="1"/>
<rect x="703" y="486" width="1" height="1"/>
<rect x="707" y="485" width="2" height="1"/>
<rect x="709" y="484" width="1" height="1"/>
<rect x="713" y="484" width="3" height="1"/>
<rect x="719" y="483" width="3" height="1"/>
<rect x="725" y="482" width="3" height="1"/>
<rect x="731" y="482" width="3" height="1"/>
<rect x="737" y="482" width="3" height="1"/>
<rect x="743" y="482" width="3" height="1"/>
<rect x="749" y="482" width="3" height="1"/>
<rect x="755" y="482" width="2" height="1"/>
<rect x="757" y="483" width="1" height="1"/>
<rect x="761" y="482" width="3" height="1"/>
<rect x="767" y="482" width="3" height="1"/>
<rect x="773" y="481" width="3" height="1"/>
<rect x="779" y="481" width="3" height="1"/>
<rect x="785" y="480" width="3" height="1"/>
<rect x="791" y="480" width="2" height="1"/>
<rect x="793" y="479" width="1" height="1"/>
<rect x="797" y="479" width="2" height="1"/>
<rect x="799" y="478" width="1" height="1"/>
<rect x="803" y="478" width="3" height="1"/>
<rect x="809" y="477" width="3" height="1"/>
<rect x="815" y="476" width="3" height="1"/>
<rect x="821" y="475" width="3" height="1"/>
<rect x="827" y="474" width="3" height="1"/>
<rect x="833" y="473" width="2" height="1"/>
<rect x="835" y="472" width="1" height="1"/>
<rect x="839" y="472" width="3" height="1"/>
<rect x="845" y="471" width="3" height="1"/>
<rect x="851" y="471" width="3" height="1"/>
<rect x="857" y="471" width="1" height="1"/>
<rect x="858" y="470" width="2" height="1"/>
<rect x="863" y="470" width="3" height="1"/>
<rect x="869" y="470" width="2" height="1"/>
<rect x="871" y="471" width="1" height="1"/>
<rect x="875" y="471" width="3" height="1"/>
<rect x="881" y="472" width="3" height="1"/>
<rect x="887" y="473" width="3" height="1"/>
<rect x="893" y="473" width="1" height="1"/>
<rect x="894" y="474" width="2" height="1"/>
<rect x="899" y="475" width="3" height="1"/>
<rect x="905" y="476" width="3" height="1"/>
</g>
<g shape-rendering="crispEdges">
<line x1="6" x2="1155" y1="544.5" y2="544.5" stroke="#c0c0c0" stroke-dasharray="3,3"/>
<line x1="6" x2="1155" y1="574.5" y2="574.5" stroke="#c0c0c0" stroke-dasharray="3,3"/>
</g>
<g shape-rendering="crispEdges" clip-path="url(#c3)" fill="#1e90ff">
<rect x="5" y="550" width="1" height="1"/>
<rect x="6" y="549" width="3" height="1"/>
<rect x="9" y="548" width="3" height="1"/>
<rect x="12" y="547" width="4" height="1"/>
<rect x="16" y="546" width="5" height="1"/>
<rect x="21" y="545" width="12" height="1"/>
<rect x="33" y="546" width="5" height="1"/>
<rect x="38" y="547" width="2" height="1"/>
<rect x="40" y="548" width="2" height="1"/>
<rect x="42" y="549" width="2" height="1"/>
<rect x="44" y="550" width="3" height="1"/>
<rect x="47" y="549" width="2" height="1"/>
<rect x="49" y="548" width="2" height="1"/>
<rect x="51" y="547" width="2" height="1"/>
<rect x="53" y="546" width="4" height="1"/>
<rect x="57" y="545" width="6" height="1"/>
<rect x="63" y="546" width="2" height="1"/>
<rect x="65" y="547" width="2" height="1"/>
<rect x="67" y="548" width="2" height="1"/>
<rect x="69" y="549" width="4" height="1"/>
<rect x="73" y="550" width="4" height="1"/>
<rect x="77" y="551" width="1" height="1"/>
<rect x="78" y="550" width="2" height="1"/>
<rect x="80" y="549" width="3" height="1"/>
<rect x="83" y="548" width="3" height="1"/>
<rect x="86" y="547" width="2" height="1"/>
<rect x="88" y="546" width="3" height="1"/>
<rect x="91" y="545" width="3" height="1"/>
<rect x="94" y="544" width="6" height="1"/>
<rect x="100" y="543" width="2" height="1"/>
<rect x="102" y="544" width="2" height="1"/>
<rect x="104" y="545" width="2" height="1"/>
<rect x="106" y="546" width="2" height="1"/>
<rect x="108" y="547" width="9" height="1"/>
<rect x="117" y="548" width="1" height="1"/>
<rect x="118" y="547" width="4" height="1"/>
<rect x="122" y="546" width="8" height="1"/>
<rect x="130" y="545" width="4" height="1"/>
<rect x="134" y="546" width="2" height="1"/>
<rect x="136" y="547" width="3" height="1"/>
<rect x="139" y="548" width="2" height="1"/>
<rect x="141" y="549" width="1" height="1"/>
<rect x="142" y="550" width="2" height="1"/>
<rect x="144" y="551" width="1" height="1"/>
<rect x="145" y="552" width="1" height="1"/>
<rect x="146" y="553" width="1" height="1"/>
<rect x="147" y="554" width="1" height="1"/>
<rect x="148" y="555" width="1" height="1"/>
<rect x="149" y="556" width="1" height="1"/>
<rect x="150" y="555" width="2" height="1"/>
<rect x="152" y="554" width="2" height="1"/>
<rect x="154" y="553" width="2" height="1"/>
<rect x="156" y="552" width="3" height="1"/>
<rect x="159" y="551" width="3" height="1"/>
<rect x="162" y="550" width="4" height="1"/>
<rect x="166" y="549" width="10" height="1"/>
<rect x="176" y="548" width="2" height="1"/>
<rect x="178" y="547" width="3" height="1"/>
<rect x="181" y="546" width="9" height="1"/>
<rect x="190" y="547" width="5" height="1"/>
<rect x="195" y="548" width="4" height="1"/>
<rect x="199" y="549" width="2" height="1"/>
<rect x="201" y="550" width="3" height="1"/>
<rect x="204" y="551" width="2" height="1"/>
<rect x="206" y="552" width="1" height="1"/>
<rect x="207" y="553" width="2" height="1"/>
<rect x="209" y="554" width="1" height="1"/>
<rect x="210" y="555" width="1" height="1"/>
<rect x="211" y="556" width="2" height="1"/>
<rect x="213" y="557" width="2" height="1"/>
<rect x="215" y="558" width="2" height="1"/>
<rect x="217" y="559" width="2" height="1"/>
<rect x="219" y="560" width="2" height="1"/>
<rect x="221" y="561" width="1" height="1"/>
<rect x="222" y="562" width="2" height="1"/>
<rect x="224" y="563" width="1" height="1"/>
<rect x="225" y="564" width="1" height="1"/>
<rect x="226" y="565" width="2" height="1"/>
<rect x="228" y="566" width="1" height="1"/>
<rect x="229" y="567" width="11" height="1"/>
<rect x="240" y="566" width="6" height="1"/>
<rect x="246" y="565" width="9" height="1"/>
<rect x="255" y="564" width="2" height="1"/>
<rect x="257" y="563" width="2" height="1"/>
<rect x="259" y="562" width="2" height="1"/>
<rect x="261" y="561" width="10" height="1"/>
<rect x="271" y="560" width="5" height="1"/>
<rect x="276" y="559" width="11" height="1"/>
<rect x="287" y="558" width="4" height="1"/>
<rect x="291" y="557" width="3" height="1"/>
<rect x="294" y="558" width="1" height="1"/>
<rect x="295" y="559" width="2" height="1"/>
<rect x="297" y="560" width="1" height="1"/>
<rect x="298" y="561" width="1" height="1"/>
<rect x="299" y="562" width="2" height="1"/>
<rect x="301" y="563" width="2" height="1"/>
<rect x="303" y="562" width="2" height="1"/>
<rect x="305" y="561" width="2" height="1"/>
<rect x="307" y="560" width="3" height="1"/>
<rect x="310" y="559" width="5" height="1"/>
<rect x="315" y="558" width="4" height="1"/>
<rect x="319" y="559" width="4" height="1"/>
<rect x="323" y="560" width="6" height="1"/>
<rect x="329" y="561" width="9" height="1"/>
<rect x="338" y="560" width="4" height="1"/>
<rect x="342" y="561" width="1" height="1"/>
<rect x="343" y="562" width="1" height="1"/>
<rect x="344" y="563" width="1" height="1"/>
<rect x="345" y="564" width="1" height="1"/>
<rect x="346" y="565" width="1" height="1"/>
<rect x="347" y="566" width="1" height="1"/>
<rect x="348" y="567" width="1" height="1"/>
<rect x="349" y="568" width="9" height="1"/>
<rect x="358" y="569" width="3" height="1"/>
<rect x="361" y="570" width="2" height="1"/>
<rect x="363" y="571" width="12" height="1"/>
<rect x="375" y="570" width="1" height="1"/>
<rect x="376" y="569" width="1" height="1"/>
<rect x="377" y="568" width="2" height="1"/>
<rect x="379" y="567" width="1" height="1"/>
<rect x="380" y="566" width="2" height="1"/>
<rect x="382" y="565" width="10" height="1"/>
<rect x="392" y="564" width="4" height="1"/>
<rect x="396" y="563" width="2" height="1"/>
<rect x="398" y="562" width="2" height="1"/>
<rect x="400" y="561" width="2" height="1"/>
<rect x="402" y="560" width="1" height="1"/>
<rect x="403" y="559" width="2" height="1"/>
<rect x="405" y="558" width="4" height="1"/>
<rect x="409" y="557" width="4" height="1"/>
<rect x="413" y="556" width="1" height="1"/>
<rect x="414" y="557" width="1" height="1"/>
<rect x="415" y="558" width="2" height="1"/>
<rect x="417" y="559" width="2" height="1"/>
<rect x="419" y="560" width="1" height="1"/>
<rect x="420" y="561" width="2" height="1"/>
<rect x="422" y="562" width="4" height="1"/>
<rect x="426" y="563" width="16" height="1"/>
<rect x="442" y="562" width="4" height="1"/>
<rect x="446" y="563" width="2" height="1"/>
<rect x="448" y="564" width="2" height="1"/>
<rect x="450" y="565" width="2" height="1"/>
<rect x="452" y="566" width="2" height="1"/>
<rect x="454" y="565" width="2" height="1"/>
<rect x="456" y="564" width="1" height="1"/>
<rect x="457" y="563" width="1" height="1"/>
<rect x="458" y="562" width="1" height="1"/>
<rect x="459" y="561" width="1" height="1"/>
<rect x="460" y="560" width="3" height="1"/>
<rect x="463" y="561" width="1" height="1"/>
<rect x="464" y="562" width="1" height="1"/>
<rect x="465" y="563" width="1" height="1"/>
<rect x="466" y="564" width="1" height="1"/>
<rect x="467" y="565" width="2" height="1"/>
<rect x="469" y="566" width="1" height="1"/>
<rect x="470" y="567" width="3" height="1"/>
<rect x="473" y="568" width="2" height="1"/>
<rect x="475" y="569" width="4" height="1"/>
<rect x="479" y="568" width="2" height="1"/>
<rect x="481" y="567" width="1" height="1"/>
<rect x="482" y="566" width="2" height="1"/>
<rect x="484" y="565" width="2" height="1"/>
<rect x="486" y="564" width="8" height="1"/>
<rect x="494" y="565" width="1" height="1"/>
<rect x="495" y="566" width="2" height="1"/>
<rect x="497" y="567" width="2" height="1"/>
<rect x="499" y="568" width="1" height="1"/>
<rect x="500" y="569" width="4" height="1"/>
<rect x="504" y="568" width="4" height="1"/>
<rect x="508" y="567" width="10" height="1"/>
<rect x="518" y="568" width="2" height="1"/>
<rect x="520" y="569" width="2" height="1"/>
<rect x="522" y="570" width="2" height="1"/>
<rect x="524" y="571" width="2" height="1"/>
<rect x="526" y="570" width="1" height="1"/>
<rect x="527" y="569" width="1" height="1"/>
<rect x="528" y="568" width="1" height="1"/>
<rect x="529" y="566" width="1" height="2"/>
<rect x="530" y="565" width="1" height="1"/>
<rect x="531" y="564" width="1" height="1"/>
<rect x="532" y="563" width="1" height="1"/>
<rect x="533" y="562" width="3" height="1"/>
<rect x="536" y="561" width="4" height="1"/>
<rect x="540" y="560" width="2" height="1"/>
<rect x="542" y="561" width="2" height="1"/>
<rect x="544" y="562" width="2" height="1"/>
<rect x="546" y="563" width="2" height="1"/>
<rect x="548" y="564" width="8" height="1"/>
<rect x="556" y="563" width="2" height="1"/>
<rect x="558" y="564" width="2" height="1"/>
<rect x="560" y="565" width="1" height="1"/>
<rect x="561" y="566" width="2" height="1"/>
<rect x="563" y="567" width="2" height="1"/>
<rect x="565" y="568" width="9" height="1"/>
<rect x="574" y="569" width="3" height="1"/>
<rect x="577" y="570" width="2" height="1"/>
<rect x="579" y="571" width="4" height="1"/>
<rect x="583" y="570" width="2" height="1"/>
<rect x="585" y="569" width="2" height="1"/>
<rect x="587" y="568" width="2" height="1"/>
<rect x="589" y="567" width="2" height="1"/>
<rect x="591" y="566" width="2" height="1"/>
<rect x="593" y="565" width="3" height="1"/>
<rect x="596" y="564" width="3" height="1"/>
<rect x="599" y="563" width="4" height="1"/>
<rect x="603" y="562" width="4" height="1"/>
<rect x="607" y="563" width="2" height="1"/>
<rect x="609" y="564" width="2" height="1"/>
<rect x="611" y="565" width="2" height="1"/>
<rect x="613" y="566" width="1" height="1"/>
<rect x="614" y="565" width="1" height="1"/>
<rect x="615" y="564" width="1" height="1"/>
<rect x="616" y="563" width="2" height="1"/>
<rect x="618" y="562" width="1" height="1"/>
<rect x="619" y="561" width="2" height="1"/>
<rect x="621" y="560" width="1" height="1"/>
<rect x="622" y="559" width="2" height="1"/>
<rect x="624" y="558" width="1" height="1"/>
<rect x="625" y="557" width="2" height="1"/>
<rect x="627" y="556" width="1" height="1"/>
<rect x="628" y="555" width="2" height="1"/>
<rect x="630" y="554" width="2" height="1"/>
<rect x="632" y="553" width="3" height="1"/>
<rect x="635" y="552" width="7" height="1"/>
<rect x="642" y="551" width="6" height="1"/>
<rect x="648" y="552" width="7" height="1"/>
<rect x="655" y="551" width="3" height="1"/>
<rect x="658" y="550" width="3" height="1"/>
<rect x="661" y="549" width="2" height="1"/>
<rect x="663" y="550" width="6" height="1"/>
<rect x="669" y="551" width="6" height="1"/>
<rect x="675" y="552" width="6" height="1"/>
<rect x="681" y="553" width="6" height="1"/>
<rect x="687" y="554" width="2" height="1"/>
<rect x="689" y="555" width="3" height="1"/>
<rect x="692" y="556" width="9" height="1"/>
<rect x="701" y="557" width="5" height="1"/>
<rect x="706" y="558" width="5" height="1"/>
<rect x="711" y="557" width="2" height="1"/>
<rect x="713" y="556" width="2" height="1"/>
<rect x="715" y="555" width="2" height="1"/>
<rect x="717" y="554" width="3" height="1"/>
<rect x="720" y="553" width="2" height="1"/>
<rect x="722" y="552" width="3" height="1"/>
<rect x="725" y="551" width="1" height="1"/>
<rect x="726" y="552" width="1" height="1"/>
<rect x="727" y="553" width="1" height="1"/>
<rect x="728" y="554" width="1" height="1"/>
<rect x="729" y="555" width="1" height="1"/>
<rect x="730" y="556" width="1" height="1"/>
<rect x="731" y="557" width="1" height="1"/>
<rect x="732" y="558" width="1" height="2"/>
<rect x="733" y="560" width="1" height="1"/>
<rect x="734" y="559" width="2" height="1"/>
<rect x="736" y="558" width="3" height="1"/>
<rect x="739" y="557" width="2" height="1"/>
<rect x="741" y="556" width="5" height="1"/>
<rect x="746" y="555" width="6" height="1"/>
<rect x="752" y="554" width="4" height="1"/>
<rect x="756" y="553" width="3" height="1"/>
<rect x="759" y="552" width="3" height="1"/>
<rect x="762" y="551" width="3" height="1"/>
<rect x="765" y="550" width="28" height="1"/>
<rect x="793" y="551" width="6" height="1"/>
<rect x="799" y="550" width="2" height="1"/>
<rect x="801" y="549" width="2" height="1"/>
<rect x="803" y="548" width="3" height="1"/>
<rect x="806" y="547" width="2" height="1"/>
<rect x="808" y="546" width="3" height="1"/>
<rect x="811" y="545" width="3" height="1"/>
<rect x="814" y="544" width="9" height="1"/>
<rect x="823" y="545" width="15" height="1"/>
<rect x="838" y="546" width="2" height="1"/>
<rect x="840" y="547" width="3" height="1"/>
<rect x="843" y="548" width="2" height="1"/>
<rect x="845" y="549" width="3" height="1"/>
<rect x="848" y="550" width="3" height="1"/>
<rect x="851" y="551" width="3" height="1"/>
<rect x="854" y="552" width="2" height="1"/>
<rect x="856" y="553" width="2" height="1"/>
<rect x="858" y="554" width="2" height="1"/>
<rect x="860" y="555" width="2" height="1"/>
<rect x="862" y="556" width="2" height="1"/>
<rect x="864" y="557" width="2" height="1"/>
<rect x="866" y="558" width="2" height="1"/>
<rect x="868" y="559" width="13" height="1"/>
<rect x="881" y="558" width="29" height="1"/>
</g>
<g shape-rendering="crispEdges">
<rect x="1156" y="54" width="2" height="1" fill="#000"/>
<rect x="1156" y="87" width="2" height="1" fill="#000"/>
<rect x="1156" y="120" width="2" height="1" fill="#000"/>
<rect x="1156" y="153" width="2" height="1" fill="#000"/>
<rect x="1156" y="186" width="2" height="1" fill="#000"/>
<rect x="1156" y="219" width="2" height="1" fill="#000"/>
<rect x="1156" y="252" width="2" height="1" fill="#000"/>
<rect x="1156" y="285" width="2" height="1" fill="#000"/>
<rect x="1156" y="318" width="2" height="1" fill="#000"/>
<rect x="1156" y="351" width="2" height="1" fill="#000"/>
<rect x="1156" y="384" width="2" height="1" fill="#000"/>
<rect x="1156" y="417" width="2" height="1" fill="#000"/>
<rect x="1156" y="450" width="2" height="1" fill="#000"/>
<rect x="1156" y="457" width="1" height="1" fill="#000"/>
<rect x="1156" y="516" width="1" height="1" fill="#000"/>
<rect x="1156" y="521" width="1" height="1" fill="#000"/>
<rect x="1156" y="597" width="1" height="1" fill="#000"/>
<rect x="1156" y="492" width="1" height="1" fill="#000"/>
<rect x="5" y="599" width="1" height="3" fill="#000"/>
<rect x="69" y="599" width="1" height="3" fill="#000"/>
<rect x="133" y="599" width="1" height="3" fill="#000"/>
<rect x="197" y="599" width="1" height="3" fill="#000"/>
<rect x="261" y="599" width="1" height="3" fill="#000"/>
<rect x="325" y="599" width="1" height="3" fill="#000"/>
<rect x="389" y="599" width="1" height="3" fill="#000"/>
<rect x="453" y="599" width="1" height="3" fill="#000"/>
<rect x="517" y="599" width="1" height="3" fill="#000"/>
<rect x="581" y="599" width="1" height="3" fill="#000"/>
<rect x="645" y="599" width="1" height="3" fill="#000"/>
<rect x="709" y="599" width="1" height="3" fill="#000"/>
<rect x="773" y="599" width="1" height="3" fill="#000"/>
<rect x="837" y="599" width="1" height="3" fill="#000"/>
<rect x="901" y="599" width="1" height="3" fill="#000"/>
<rect x="1157" y="169" width="41" height="11" fill="#000"/>
</g>
<text x="1161" y="58" class="ax" textLength="32.5" lengthAdjust="spacingAndGlyphs">1.01280</text>
<text x="1161" y="91" class="ax" textLength="32.5" lengthAdjust="spacingAndGlyphs">1.00930</text>
<text x="1161" y="124" class="ax" textLength="32.5" lengthAdjust="spacingAndGlyphs">1.00580</text>
<text x="1161" y="157" class="ax" textLength="32.5" lengthAdjust="spacingAndGlyphs">1.00230</text>
<text x="1161" y="190" class="ax" textLength="32.5" lengthAdjust="spacingAndGlyphs">0.99880</text>
<text x="1161" y="223" class="ax" textLength="32.5" lengthAdjust="spacingAndGlyphs">0.99530</text>
<text x="1161" y="256" class="ax" textLength="32.5" lengthAdjust="spacingAndGlyphs">0.99170</text>
<text x="1161" y="289" class="ax" textLength="32.5" lengthAdjust="spacingAndGlyphs">0.98820</text>
<text x="1161" y="322" class="ax" textLength="32.5" lengthAdjust="spacingAndGlyphs">0.98470</text>
<text x="1161" y="355" class="ax" textLength="32.5" lengthAdjust="spacingAndGlyphs">0.98120</text>
<text x="1161" y="388" class="ax" textLength="32.5" lengthAdjust="spacingAndGlyphs">0.97770</text>
<text x="1161" y="421" class="ax" textLength="32.5" lengthAdjust="spacingAndGlyphs">0.97420</text>
<text x="1161" y="454" class="ax" textLength="32.5" lengthAdjust="spacingAndGlyphs">0.97070</text>
<text x="1161.3" y="178" class="ax" textLength="32.5" lengthAdjust="spacingAndGlyphs" style="fill:#fff;stroke:#fff">1.00009</text>
<text x="1159" y="466" class="ax" textLength="37.5" lengthAdjust="spacingAndGlyphs">0.005802</text>
<text x="1159" y="496" class="ax" textLength="17.5" lengthAdjust="spacingAndGlyphs">0.00</text>
<text x="1159" y="514" class="ax" textLength="40.5" lengthAdjust="spacingAndGlyphs">-0.003945</text>
<text x="1159.5" y="530" class="ax" textLength="14.4" lengthAdjust="spacingAndGlyphs">100</text>
<text x="1158.3" y="548" class="ax" textLength="9.8" lengthAdjust="spacingAndGlyphs">70</text>
<text x="1158.3" y="578" class="ax" textLength="9.8" lengthAdjust="spacingAndGlyphs">30</text>
<text x="1159" y="595" class="ax" textLength="5" lengthAdjust="spacingAndGlyphs">0</text>
<text x="4.4" y="611" class="ax" textLength="50" lengthAdjust="spacingAndGlyphs">17 Oct 2018</text>
<text x="68.4" y="611" class="ax" textLength="50" lengthAdjust="spacingAndGlyphs">26 Oct 2018</text>
<text x="132.4" y="611" class="ax" textLength="47.7" lengthAdjust="spacingAndGlyphs">5 Nov 2018</text>
<text x="196.4" y="611" class="ax" textLength="53" lengthAdjust="spacingAndGlyphs">14 Nov 2018</text>
<text x="260.4" y="611" class="ax" textLength="53.3" lengthAdjust="spacingAndGlyphs">23 Nov 2018</text>
<text x="324.4" y="611" class="ax" textLength="46" lengthAdjust="spacingAndGlyphs">3 Dec 2018</text>
<text x="388.4" y="611" class="ax" textLength="51" lengthAdjust="spacingAndGlyphs">12 Dec 2018</text>
<text x="452.4" y="611" class="ax" textLength="51" lengthAdjust="spacingAndGlyphs">21 Dec 2018</text>
<text x="516.4" y="611" class="ax" textLength="51.7" lengthAdjust="spacingAndGlyphs">31 Dec 2018</text>
<text x="580.4" y="611" class="ax" textLength="44.3" lengthAdjust="spacingAndGlyphs">9 Jan 2019</text>
<text x="644.4" y="611" class="ax" textLength="49.3" lengthAdjust="spacingAndGlyphs">18 Jan 2019</text>
<text x="708.4" y="611" class="ax" textLength="50" lengthAdjust="spacingAndGlyphs">28 Jan 2019</text>
<text x="772.4" y="611" class="ax" textLength="45.8" lengthAdjust="spacingAndGlyphs">6 Feb 2019</text>
<text x="836.4" y="611" class="ax" textLength="51" lengthAdjust="spacingAndGlyphs">15 Feb 2019</text>
<text x="900.4" y="611" class="ax" textLength="51" lengthAdjust="spacingAndGlyphs">25 Feb 2019</text>
<path d="M8 40h7l-3.5 4z" fill="#000"/>
<text x="20" y="45" class="ax" textLength="65" lengthAdjust="spacingAndGlyphs">USDCHF,Daily</text>
<text x="91.3" y="45" class="ax" textLength="32.3" lengthAdjust="spacingAndGlyphs">1.00007</text>
<text x="127.2" y="45" class="ax" textLength="32.3" lengthAdjust="spacingAndGlyphs">1.00051</text>
<text x="163.1" y="45" class="ax" textLength="32.3" lengthAdjust="spacingAndGlyphs">0.99995</text>
<text x="199" y="45" class="ax" textLength="32.3" lengthAdjust="spacingAndGlyphs">1.00009</text>
<text x="9.3" y="468" class="ax" textLength="64.6" lengthAdjust="spacingAndGlyphs">MACD(12,26,9)</text>
<text x="78.4" y="468" class="ax" textLength="37.3" lengthAdjust="spacingAndGlyphs">0.001300</text>
<text x="119.4" y="468" class="ax" textLength="37.6" lengthAdjust="spacingAndGlyphs">0.002532</text>
<text x="9.3" y="531.5" class="ax" textLength="31.3" lengthAdjust="spacingAndGlyphs">RSI(14)</text>
<text x="43.9" y="531.5" class="ax" textLength="33" lengthAdjust="spacingAndGlyphs">51.4237</text>
<text x="4.5" y="21" class="tb" textLength="17.5" lengthAdjust="spacingAndGlyphs">M30</text>
<text x="35.5" y="21" class="tb" textLength="11.5" lengthAdjust="spacingAndGlyphs">H1</text>
<text x="62.5" y="21" class="tb" textLength="12.5" lengthAdjust="spacingAndGlyphs">H4</text>
<text x="91" y="21" class="tb" textLength="12" lengthAdjust="spacingAndGlyphs">D1</text>
<text x="119" y="21" class="tb" textLength="14.3" lengthAdjust="spacingAndGlyphs">W1</text>
<text x="145.7" y="21" class="tb" textLength="14.5" lengthAdjust="spacingAndGlyphs">MN</text>
<g shape-rendering="crispEdges">
<rect x="0" y="619" width="1198" height="1" fill="#e3e3e3"/>
<rect x="0" y="620" width="1198" height="1" fill="#fff"/>
<rect x="0" y="621" width="1198" height="1" fill="#000"/>
<rect x="0" y="622" width="1198" height="1" fill="#fff"/>
<rect x="0" y="623" width="1198" height="24" fill="#f0f0f0"/>
<rect x="0" y="641" width="1198" height="1" fill="#fafafa"/>
<rect x="0" y="645" width="1198" height="1" fill="#a8a8a8"/>
<rect x="0" y="646" width="1198" height="1" fill="#f4f4f4"/>
<rect x="1" y="621" width="1" height="19" fill="#696969"/>
<rect x="213" y="622" width="1" height="18" fill="#fff"/>
<rect x="314" y="622" width="1" height="18" fill="#fff"/>
<rect x="214" y="621" width="100" height="19" fill="#000"/>
<rect x="215" y="620" width="98" height="19" fill="#fff"/>
<rect x="215" y="640" width="99" height="1" fill="#dcdcdc"/>
<rect x="110" y="624" width="1" height="13" fill="#7d7d7d"/>
<rect x="418" y="624" width="1" height="13" fill="#7d7d7d"/>
<rect x="538" y="624" width="1" height="13" fill="#7d7d7d"/>
<rect x="650" y="624" width="1" height="13" fill="#7d7d7d"/>
<rect x="742" y="624" width="1" height="13" fill="#7d7d7d"/>
<rect x="847" y="624" width="1" height="13" fill="#7d7d7d"/>
<rect x="934" y="624" width="1" height="13" fill="#7d7d7d"/>
<rect x="1026" y="624" width="1" height="13" fill="#7d7d7d"/>
<rect x="1094" y="624" width="1" height="13" fill="#7d7d7d"/>
<rect x="1166" y="623" width="32" height="17" fill="#f0f0f0"/>
</g>
<clipPath id="ct"><rect x="0" y="620" width="1165" height="27"/></clipPath>
<text x="18" y="635.5" class="tab" textLength="80" lengthAdjust="spacingAndGlyphs" clip-path="url(#ct)">EURUSD,Daily</text>
<text x="121" y="635.5" class="tab" textLength="82" lengthAdjust="spacingAndGlyphs" clip-path="url(#ct)">AUDUSD,Daily</text>
<text x="325" y="635.5" class="tab" textLength="81" lengthAdjust="spacingAndGlyphs" clip-path="url(#ct)">USDCAD,Daily</text>
<text x="429" y="635.5" class="tab" textLength="97" lengthAdjust="spacingAndGlyphs" clip-path="url(#ct)">USDCNH,Weekly</text>
<text x="549" y="635.5" class="tab" textLength="89" lengthAdjust="spacingAndGlyphs" clip-path="url(#ct)">USDJPY,Weekly</text>
<text x="661" y="635.5" class="tab" textLength="68" lengthAdjust="spacingAndGlyphs" clip-path="url(#ct)">XAUUSD,H4</text>
<text x="753" y="635.5" class="tab" textLength="81" lengthAdjust="spacingAndGlyphs" clip-path="url(#ct)">GBPUSD,Daily</text>
<text x="858" y="635.5" class="tab" textLength="63" lengthAdjust="spacingAndGlyphs" clip-path="url(#ct)">SP500,M15</text>
<text x="946" y="635.5" class="tab" textLength="68" lengthAdjust="spacingAndGlyphs" clip-path="url(#ct)">GBPUSD,H1</text>
<text x="1036" y="635.5" class="tab" textLength="46" lengthAdjust="spacingAndGlyphs" clip-path="url(#ct)">DJ30,H4</text>
<text x="1104" y="635.5" class="tab" textLength="66" lengthAdjust="spacingAndGlyphs" clip-path="url(#ct)">TECH100,H</text>
<text x="224.7" y="635.5" class="tabA" textLength="77.8" lengthAdjust="spacingAndGlyphs">USDCHF,Daily</text>
<path d="M1171 630l3.2 -2.8v5.6z" fill="#a0a0a0"/><path d="M1190 626.5l3.5 3.5l-3.5 3.5z" fill="#000"/>
</svg></body></html>
